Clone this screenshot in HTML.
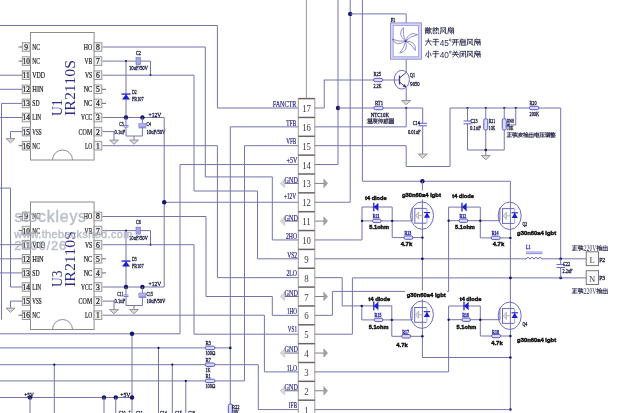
<!DOCTYPE html>
<html><head><meta charset="utf-8"><title>schematic</title>
<style>html,body{margin:0;padding:0;background:#fff;width:640px;height:413px;overflow:hidden}svg{display:block;filter:blur(0.25px)}</style>
</head><body><svg width="640" height="413" viewBox="0 0 640 413"><rect x="30.5" y="32.5" width="63.6" height="127.5" stroke="#8c8c8c" stroke-width="1" fill="none" rx="0"/><path d="M52.5,160.0 A10,10 0 0 1 72.5,160.0" stroke="#8c8c8c" fill="none" stroke-width="1"/><rect x="22.3" y="42.7" width="7.8" height="8.6" stroke="#9a9a9a" stroke-width="1" fill="#eef0ee" rx="0"/><text x="26.2" y="49.9" font-family="Liberation Serif" font-size="8.4" fill="#1a1a1a" font-weight="normal" text-anchor="middle" stroke="#1a1a1a" stroke-width="0.22" textLength="3.8" lengthAdjust="spacingAndGlyphs" >9</text><text x="32.3" y="49.9" font-family="Liberation Serif" font-size="8.4" fill="#1a1a1a" font-weight="normal" text-anchor="start" stroke="#1a1a1a" stroke-width="0.22" textLength="7.7" lengthAdjust="spacingAndGlyphs" >NC</text><rect x="94.1" y="42.7" width="7.7" height="8.6" stroke="#9a9a9a" stroke-width="1" fill="#eef0ee" rx="0"/><text x="97.95" y="49.9" font-family="Liberation Serif" font-size="8.4" fill="#1a1a1a" font-weight="normal" text-anchor="middle" stroke="#1a1a1a" stroke-width="0.22" textLength="3.8" lengthAdjust="spacingAndGlyphs" >8</text><text x="92.2" y="49.9" font-family="Liberation Serif" font-size="8.4" fill="#1a1a1a" font-weight="normal" text-anchor="end" stroke="#1a1a1a" stroke-width="0.22" textLength="8.4" lengthAdjust="spacingAndGlyphs" >HO</text><rect x="22.3" y="56.800000000000004" width="7.8" height="8.6" stroke="#9a9a9a" stroke-width="1" fill="#eef0ee" rx="0"/><text x="26.2" y="64.0" font-family="Liberation Serif" font-size="8.4" fill="#1a1a1a" font-weight="normal" text-anchor="middle" stroke="#1a1a1a" stroke-width="0.22" textLength="7.2" lengthAdjust="spacingAndGlyphs" >10</text><text x="32.3" y="64.0" font-family="Liberation Serif" font-size="8.4" fill="#1a1a1a" font-weight="normal" text-anchor="start" stroke="#1a1a1a" stroke-width="0.22" textLength="7.7" lengthAdjust="spacingAndGlyphs" >NC</text><rect x="94.1" y="56.800000000000004" width="7.7" height="8.6" stroke="#9a9a9a" stroke-width="1" fill="#eef0ee" rx="0"/><text x="97.95" y="64.0" font-family="Liberation Serif" font-size="8.4" fill="#1a1a1a" font-weight="normal" text-anchor="middle" stroke="#1a1a1a" stroke-width="0.22" textLength="3.8" lengthAdjust="spacingAndGlyphs" >7</text><text x="92.2" y="64.0" font-family="Liberation Serif" font-size="8.4" fill="#1a1a1a" font-weight="normal" text-anchor="end" stroke="#1a1a1a" stroke-width="0.22" textLength="7.6" lengthAdjust="spacingAndGlyphs" >VB</text><rect x="22.3" y="70.9" width="7.8" height="8.6" stroke="#9a9a9a" stroke-width="1" fill="#eef0ee" rx="0"/><text x="26.2" y="78.10000000000001" font-family="Liberation Serif" font-size="8.4" fill="#1a1a1a" font-weight="normal" text-anchor="middle" stroke="#1a1a1a" stroke-width="0.22" textLength="7.2" lengthAdjust="spacingAndGlyphs" >11</text><text x="32.3" y="78.10000000000001" font-family="Liberation Serif" font-size="8.4" fill="#1a1a1a" font-weight="normal" text-anchor="start" stroke="#1a1a1a" stroke-width="0.22" textLength="12.8" lengthAdjust="spacingAndGlyphs" >VDD</text><rect x="94.1" y="70.9" width="7.7" height="8.6" stroke="#9a9a9a" stroke-width="1" fill="#eef0ee" rx="0"/><text x="97.95" y="78.10000000000001" font-family="Liberation Serif" font-size="8.4" fill="#1a1a1a" font-weight="normal" text-anchor="middle" stroke="#1a1a1a" stroke-width="0.22" textLength="3.8" lengthAdjust="spacingAndGlyphs" >6</text><text x="92.2" y="78.10000000000001" font-family="Liberation Serif" font-size="8.4" fill="#1a1a1a" font-weight="normal" text-anchor="end" stroke="#1a1a1a" stroke-width="0.22" textLength="7.3" lengthAdjust="spacingAndGlyphs" >VS</text><rect x="22.3" y="85.0" width="7.8" height="8.6" stroke="#9a9a9a" stroke-width="1" fill="#eef0ee" rx="0"/><text x="26.2" y="92.2" font-family="Liberation Serif" font-size="8.4" fill="#1a1a1a" font-weight="normal" text-anchor="middle" stroke="#1a1a1a" stroke-width="0.22" textLength="7.2" lengthAdjust="spacingAndGlyphs" >12</text><text x="32.3" y="92.2" font-family="Liberation Serif" font-size="8.4" fill="#1a1a1a" font-weight="normal" text-anchor="start" stroke="#1a1a1a" stroke-width="0.22" textLength="11.4" lengthAdjust="spacingAndGlyphs" >HIN</text><rect x="94.1" y="85.0" width="7.7" height="8.6" stroke="#9a9a9a" stroke-width="1" fill="#eef0ee" rx="0"/><text x="97.95" y="92.2" font-family="Liberation Serif" font-size="8.4" fill="#1a1a1a" font-weight="normal" text-anchor="middle" stroke="#1a1a1a" stroke-width="0.22" textLength="3.8" lengthAdjust="spacingAndGlyphs" >5</text><text x="92.2" y="92.2" font-family="Liberation Serif" font-size="8.4" fill="#1a1a1a" font-weight="normal" text-anchor="end" stroke="#1a1a1a" stroke-width="0.22" textLength="8.5" lengthAdjust="spacingAndGlyphs" >NC</text><rect x="22.3" y="99.10000000000001" width="7.8" height="8.6" stroke="#9a9a9a" stroke-width="1" fill="#eef0ee" rx="0"/><text x="26.2" y="106.30000000000001" font-family="Liberation Serif" font-size="8.4" fill="#1a1a1a" font-weight="normal" text-anchor="middle" stroke="#1a1a1a" stroke-width="0.22" textLength="7.2" lengthAdjust="spacingAndGlyphs" >13</text><text x="32.3" y="106.30000000000001" font-family="Liberation Serif" font-size="8.4" fill="#1a1a1a" font-weight="normal" text-anchor="start" stroke="#1a1a1a" stroke-width="0.22" textLength="7.3" lengthAdjust="spacingAndGlyphs" >SD</text><rect x="94.1" y="99.10000000000001" width="7.7" height="8.6" stroke="#9a9a9a" stroke-width="1" fill="#eef0ee" rx="0"/><text x="97.95" y="106.30000000000001" font-family="Liberation Serif" font-size="8.4" fill="#1a1a1a" font-weight="normal" text-anchor="middle" stroke="#1a1a1a" stroke-width="0.22" textLength="3.8" lengthAdjust="spacingAndGlyphs" >4</text><text x="92.2" y="106.30000000000001" font-family="Liberation Serif" font-size="8.4" fill="#1a1a1a" font-weight="normal" text-anchor="end" stroke="#1a1a1a" stroke-width="0.22" textLength="8.5" lengthAdjust="spacingAndGlyphs" >NC</text><rect x="22.3" y="113.2" width="7.8" height="8.6" stroke="#9a9a9a" stroke-width="1" fill="#eef0ee" rx="0"/><text x="26.2" y="120.4" font-family="Liberation Serif" font-size="8.4" fill="#1a1a1a" font-weight="normal" text-anchor="middle" stroke="#1a1a1a" stroke-width="0.22" textLength="7.2" lengthAdjust="spacingAndGlyphs" >14</text><text x="32.3" y="120.4" font-family="Liberation Serif" font-size="8.4" fill="#1a1a1a" font-weight="normal" text-anchor="start" stroke="#1a1a1a" stroke-width="0.22" textLength="8.8" lengthAdjust="spacingAndGlyphs" >LIN</text><rect x="94.1" y="113.2" width="7.7" height="8.6" stroke="#9a9a9a" stroke-width="1" fill="#eef0ee" rx="0"/><text x="97.95" y="120.4" font-family="Liberation Serif" font-size="8.4" fill="#1a1a1a" font-weight="normal" text-anchor="middle" stroke="#1a1a1a" stroke-width="0.22" textLength="3.8" lengthAdjust="spacingAndGlyphs" >3</text><text x="92.2" y="120.4" font-family="Liberation Serif" font-size="8.4" fill="#1a1a1a" font-weight="normal" text-anchor="end" stroke="#1a1a1a" stroke-width="0.22" textLength="11.1" lengthAdjust="spacingAndGlyphs" >VCC</text><rect x="22.3" y="127.3" width="7.8" height="8.6" stroke="#9a9a9a" stroke-width="1" fill="#eef0ee" rx="0"/><text x="26.2" y="134.5" font-family="Liberation Serif" font-size="8.4" fill="#1a1a1a" font-weight="normal" text-anchor="middle" stroke="#1a1a1a" stroke-width="0.22" textLength="7.2" lengthAdjust="spacingAndGlyphs" >15</text><text x="32.3" y="134.5" font-family="Liberation Serif" font-size="8.4" fill="#1a1a1a" font-weight="normal" text-anchor="start" stroke="#1a1a1a" stroke-width="0.22" textLength="9.3" lengthAdjust="spacingAndGlyphs" >VSS</text><rect x="94.1" y="127.3" width="7.7" height="8.6" stroke="#9a9a9a" stroke-width="1" fill="#eef0ee" rx="0"/><text x="97.95" y="134.5" font-family="Liberation Serif" font-size="8.4" fill="#1a1a1a" font-weight="normal" text-anchor="middle" stroke="#1a1a1a" stroke-width="0.22" textLength="3.8" lengthAdjust="spacingAndGlyphs" >2</text><text x="92.2" y="134.5" font-family="Liberation Serif" font-size="8.4" fill="#1a1a1a" font-weight="normal" text-anchor="end" stroke="#1a1a1a" stroke-width="0.22" textLength="13.6" lengthAdjust="spacingAndGlyphs" >COM</text><rect x="22.3" y="141.39999999999998" width="7.8" height="8.6" stroke="#9a9a9a" stroke-width="1" fill="#eef0ee" rx="0"/><text x="26.2" y="148.6" font-family="Liberation Serif" font-size="8.4" fill="#1a1a1a" font-weight="normal" text-anchor="middle" stroke="#1a1a1a" stroke-width="0.22" textLength="7.2" lengthAdjust="spacingAndGlyphs" >16</text><text x="32.3" y="148.6" font-family="Liberation Serif" font-size="8.4" fill="#1a1a1a" font-weight="normal" text-anchor="start" stroke="#1a1a1a" stroke-width="0.22" textLength="7.7" lengthAdjust="spacingAndGlyphs" >NC</text><rect x="94.1" y="141.39999999999998" width="7.7" height="8.6" stroke="#9a9a9a" stroke-width="1" fill="#eef0ee" rx="0"/><text x="97.95" y="148.6" font-family="Liberation Serif" font-size="8.4" fill="#1a1a1a" font-weight="normal" text-anchor="middle" stroke="#1a1a1a" stroke-width="0.22" textLength="3.8" lengthAdjust="spacingAndGlyphs" >1</text><text x="92.2" y="148.6" font-family="Liberation Serif" font-size="8.4" fill="#1a1a1a" font-weight="normal" text-anchor="end" stroke="#1a1a1a" stroke-width="0.22" textLength="7.3" lengthAdjust="spacingAndGlyphs" >LO</text><path d="M18.5,47.0 L22.3,47.0" stroke="#6a6a6a" stroke-width="1" fill="none"/><path d="M18.5,61.1 L22.3,61.1" stroke="#6a6a6a" stroke-width="1" fill="none"/><path d="M18.5,145.7 L22.3,145.7" stroke="#6a6a6a" stroke-width="1" fill="none"/><path d="M101.8,89.3 L106,89.3" stroke="#6a6a6a" stroke-width="1" fill="none"/><path d="M101.8,103.4 L106,103.4" stroke="#6a6a6a" stroke-width="1" fill="none"/><text transform="translate(74.5,116) rotate(-90)" font-family="Liberation Serif" font-size="15" fill="#2b2b85" font-weight="normal" text-anchor="start" textLength="56" lengthAdjust="spacingAndGlyphs" >IR2110S</text><text transform="translate(61.5,116) rotate(-90)" font-family="Liberation Serif" font-size="15" fill="#2b2b85" font-weight="normal" text-anchor="start" textLength="16.5" lengthAdjust="spacingAndGlyphs" >U1</text><rect x="30.5" y="202.0" width="63.6" height="127.5" stroke="#8c8c8c" stroke-width="1" fill="none" rx="0"/><path d="M52.5,329.5 A10,10 0 0 1 72.5,329.5" stroke="#8c8c8c" fill="none" stroke-width="1"/><rect x="22.3" y="212.2" width="7.8" height="8.6" stroke="#9a9a9a" stroke-width="1" fill="#eef0ee" rx="0"/><text x="26.2" y="219.4" font-family="Liberation Serif" font-size="8.4" fill="#1a1a1a" font-weight="normal" text-anchor="middle" stroke="#1a1a1a" stroke-width="0.22" textLength="3.8" lengthAdjust="spacingAndGlyphs" >9</text><text x="32.3" y="219.4" font-family="Liberation Serif" font-size="8.4" fill="#1a1a1a" font-weight="normal" text-anchor="start" stroke="#1a1a1a" stroke-width="0.22" textLength="7.7" lengthAdjust="spacingAndGlyphs" >NC</text><rect x="94.1" y="212.2" width="7.7" height="8.6" stroke="#9a9a9a" stroke-width="1" fill="#eef0ee" rx="0"/><text x="97.95" y="219.4" font-family="Liberation Serif" font-size="8.4" fill="#1a1a1a" font-weight="normal" text-anchor="middle" stroke="#1a1a1a" stroke-width="0.22" textLength="3.8" lengthAdjust="spacingAndGlyphs" >8</text><text x="92.2" y="219.4" font-family="Liberation Serif" font-size="8.4" fill="#1a1a1a" font-weight="normal" text-anchor="end" stroke="#1a1a1a" stroke-width="0.22" textLength="8.4" lengthAdjust="spacingAndGlyphs" >HO</text><rect x="22.3" y="226.29999999999998" width="7.8" height="8.6" stroke="#9a9a9a" stroke-width="1" fill="#eef0ee" rx="0"/><text x="26.2" y="233.5" font-family="Liberation Serif" font-size="8.4" fill="#1a1a1a" font-weight="normal" text-anchor="middle" stroke="#1a1a1a" stroke-width="0.22" textLength="7.2" lengthAdjust="spacingAndGlyphs" >10</text><text x="32.3" y="233.5" font-family="Liberation Serif" font-size="8.4" fill="#1a1a1a" font-weight="normal" text-anchor="start" stroke="#1a1a1a" stroke-width="0.22" textLength="7.7" lengthAdjust="spacingAndGlyphs" >NC</text><rect x="94.1" y="226.29999999999998" width="7.7" height="8.6" stroke="#9a9a9a" stroke-width="1" fill="#eef0ee" rx="0"/><text x="97.95" y="233.5" font-family="Liberation Serif" font-size="8.4" fill="#1a1a1a" font-weight="normal" text-anchor="middle" stroke="#1a1a1a" stroke-width="0.22" textLength="3.8" lengthAdjust="spacingAndGlyphs" >7</text><text x="92.2" y="233.5" font-family="Liberation Serif" font-size="8.4" fill="#1a1a1a" font-weight="normal" text-anchor="end" stroke="#1a1a1a" stroke-width="0.22" textLength="7.6" lengthAdjust="spacingAndGlyphs" >VB</text><rect x="22.3" y="240.39999999999998" width="7.8" height="8.6" stroke="#9a9a9a" stroke-width="1" fill="#eef0ee" rx="0"/><text x="26.2" y="247.6" font-family="Liberation Serif" font-size="8.4" fill="#1a1a1a" font-weight="normal" text-anchor="middle" stroke="#1a1a1a" stroke-width="0.22" textLength="7.2" lengthAdjust="spacingAndGlyphs" >11</text><text x="32.3" y="247.6" font-family="Liberation Serif" font-size="8.4" fill="#1a1a1a" font-weight="normal" text-anchor="start" stroke="#1a1a1a" stroke-width="0.22" textLength="12.8" lengthAdjust="spacingAndGlyphs" >VDD</text><rect x="94.1" y="240.39999999999998" width="7.7" height="8.6" stroke="#9a9a9a" stroke-width="1" fill="#eef0ee" rx="0"/><text x="97.95" y="247.6" font-family="Liberation Serif" font-size="8.4" fill="#1a1a1a" font-weight="normal" text-anchor="middle" stroke="#1a1a1a" stroke-width="0.22" textLength="3.8" lengthAdjust="spacingAndGlyphs" >6</text><text x="92.2" y="247.6" font-family="Liberation Serif" font-size="8.4" fill="#1a1a1a" font-weight="normal" text-anchor="end" stroke="#1a1a1a" stroke-width="0.22" textLength="7.3" lengthAdjust="spacingAndGlyphs" >VS</text><rect x="22.3" y="254.5" width="7.8" height="8.6" stroke="#9a9a9a" stroke-width="1" fill="#eef0ee" rx="0"/><text x="26.2" y="261.7" font-family="Liberation Serif" font-size="8.4" fill="#1a1a1a" font-weight="normal" text-anchor="middle" stroke="#1a1a1a" stroke-width="0.22" textLength="7.2" lengthAdjust="spacingAndGlyphs" >12</text><text x="32.3" y="261.7" font-family="Liberation Serif" font-size="8.4" fill="#1a1a1a" font-weight="normal" text-anchor="start" stroke="#1a1a1a" stroke-width="0.22" textLength="11.4" lengthAdjust="spacingAndGlyphs" >HIN</text><rect x="94.1" y="254.5" width="7.7" height="8.6" stroke="#9a9a9a" stroke-width="1" fill="#eef0ee" rx="0"/><text x="97.95" y="261.7" font-family="Liberation Serif" font-size="8.4" fill="#1a1a1a" font-weight="normal" text-anchor="middle" stroke="#1a1a1a" stroke-width="0.22" textLength="3.8" lengthAdjust="spacingAndGlyphs" >5</text><text x="92.2" y="261.7" font-family="Liberation Serif" font-size="8.4" fill="#1a1a1a" font-weight="normal" text-anchor="end" stroke="#1a1a1a" stroke-width="0.22" textLength="8.5" lengthAdjust="spacingAndGlyphs" >NC</text><rect x="22.3" y="268.59999999999997" width="7.8" height="8.6" stroke="#9a9a9a" stroke-width="1" fill="#eef0ee" rx="0"/><text x="26.2" y="275.79999999999995" font-family="Liberation Serif" font-size="8.4" fill="#1a1a1a" font-weight="normal" text-anchor="middle" stroke="#1a1a1a" stroke-width="0.22" textLength="7.2" lengthAdjust="spacingAndGlyphs" >13</text><text x="32.3" y="275.79999999999995" font-family="Liberation Serif" font-size="8.4" fill="#1a1a1a" font-weight="normal" text-anchor="start" stroke="#1a1a1a" stroke-width="0.22" textLength="7.3" lengthAdjust="spacingAndGlyphs" >SD</text><rect x="94.1" y="268.59999999999997" width="7.7" height="8.6" stroke="#9a9a9a" stroke-width="1" fill="#eef0ee" rx="0"/><text x="97.95" y="275.79999999999995" font-family="Liberation Serif" font-size="8.4" fill="#1a1a1a" font-weight="normal" text-anchor="middle" stroke="#1a1a1a" stroke-width="0.22" textLength="3.8" lengthAdjust="spacingAndGlyphs" >4</text><text x="92.2" y="275.79999999999995" font-family="Liberation Serif" font-size="8.4" fill="#1a1a1a" font-weight="normal" text-anchor="end" stroke="#1a1a1a" stroke-width="0.22" textLength="8.5" lengthAdjust="spacingAndGlyphs" >NC</text><rect x="22.3" y="282.7" width="7.8" height="8.6" stroke="#9a9a9a" stroke-width="1" fill="#eef0ee" rx="0"/><text x="26.2" y="289.9" font-family="Liberation Serif" font-size="8.4" fill="#1a1a1a" font-weight="normal" text-anchor="middle" stroke="#1a1a1a" stroke-width="0.22" textLength="7.2" lengthAdjust="spacingAndGlyphs" >14</text><text x="32.3" y="289.9" font-family="Liberation Serif" font-size="8.4" fill="#1a1a1a" font-weight="normal" text-anchor="start" stroke="#1a1a1a" stroke-width="0.22" textLength="8.8" lengthAdjust="spacingAndGlyphs" >LIN</text><rect x="94.1" y="282.7" width="7.7" height="8.6" stroke="#9a9a9a" stroke-width="1" fill="#eef0ee" rx="0"/><text x="97.95" y="289.9" font-family="Liberation Serif" font-size="8.4" fill="#1a1a1a" font-weight="normal" text-anchor="middle" stroke="#1a1a1a" stroke-width="0.22" textLength="3.8" lengthAdjust="spacingAndGlyphs" >3</text><text x="92.2" y="289.9" font-family="Liberation Serif" font-size="8.4" fill="#1a1a1a" font-weight="normal" text-anchor="end" stroke="#1a1a1a" stroke-width="0.22" textLength="11.1" lengthAdjust="spacingAndGlyphs" >VCC</text><rect x="22.3" y="296.8" width="7.8" height="8.6" stroke="#9a9a9a" stroke-width="1" fill="#eef0ee" rx="0"/><text x="26.2" y="304.0" font-family="Liberation Serif" font-size="8.4" fill="#1a1a1a" font-weight="normal" text-anchor="middle" stroke="#1a1a1a" stroke-width="0.22" textLength="7.2" lengthAdjust="spacingAndGlyphs" >15</text><text x="32.3" y="304.0" font-family="Liberation Serif" font-size="8.4" fill="#1a1a1a" font-weight="normal" text-anchor="start" stroke="#1a1a1a" stroke-width="0.22" textLength="9.3" lengthAdjust="spacingAndGlyphs" >VSS</text><rect x="94.1" y="296.8" width="7.7" height="8.6" stroke="#9a9a9a" stroke-width="1" fill="#eef0ee" rx="0"/><text x="97.95" y="304.0" font-family="Liberation Serif" font-size="8.4" fill="#1a1a1a" font-weight="normal" text-anchor="middle" stroke="#1a1a1a" stroke-width="0.22" textLength="3.8" lengthAdjust="spacingAndGlyphs" >2</text><text x="92.2" y="304.0" font-family="Liberation Serif" font-size="8.4" fill="#1a1a1a" font-weight="normal" text-anchor="end" stroke="#1a1a1a" stroke-width="0.22" textLength="13.6" lengthAdjust="spacingAndGlyphs" >COM</text><rect x="22.3" y="310.9" width="7.8" height="8.6" stroke="#9a9a9a" stroke-width="1" fill="#eef0ee" rx="0"/><text x="26.2" y="318.09999999999997" font-family="Liberation Serif" font-size="8.4" fill="#1a1a1a" font-weight="normal" text-anchor="middle" stroke="#1a1a1a" stroke-width="0.22" textLength="7.2" lengthAdjust="spacingAndGlyphs" >16</text><text x="32.3" y="318.09999999999997" font-family="Liberation Serif" font-size="8.4" fill="#1a1a1a" font-weight="normal" text-anchor="start" stroke="#1a1a1a" stroke-width="0.22" textLength="7.7" lengthAdjust="spacingAndGlyphs" >NC</text><rect x="94.1" y="310.9" width="7.7" height="8.6" stroke="#9a9a9a" stroke-width="1" fill="#eef0ee" rx="0"/><text x="97.95" y="318.09999999999997" font-family="Liberation Serif" font-size="8.4" fill="#1a1a1a" font-weight="normal" text-anchor="middle" stroke="#1a1a1a" stroke-width="0.22" textLength="3.8" lengthAdjust="spacingAndGlyphs" >1</text><text x="92.2" y="318.09999999999997" font-family="Liberation Serif" font-size="8.4" fill="#1a1a1a" font-weight="normal" text-anchor="end" stroke="#1a1a1a" stroke-width="0.22" textLength="7.3" lengthAdjust="spacingAndGlyphs" >LO</text><path d="M18.5,216.5 L22.3,216.5" stroke="#6a6a6a" stroke-width="1" fill="none"/><path d="M18.5,230.6 L22.3,230.6" stroke="#6a6a6a" stroke-width="1" fill="none"/><path d="M18.5,315.2 L22.3,315.2" stroke="#6a6a6a" stroke-width="1" fill="none"/><path d="M101.8,258.8 L106,258.8" stroke="#6a6a6a" stroke-width="1" fill="none"/><path d="M101.8,272.9 L106,272.9" stroke="#6a6a6a" stroke-width="1" fill="none"/><text transform="translate(74.5,287.0) rotate(-90)" font-family="Liberation Serif" font-size="15" fill="#2b2b85" font-weight="normal" text-anchor="start" textLength="56" lengthAdjust="spacingAndGlyphs" >IR2110S</text><text transform="translate(61.5,287.0) rotate(-90)" font-family="Liberation Serif" font-size="15" fill="#2b2b85" font-weight="normal" text-anchor="start" textLength="16.5" lengthAdjust="spacingAndGlyphs" >U3</text><path d="M102.5,61.1 L150.5,61.1 L150.5,75.2" stroke="#7474ac" stroke-width="1" fill="none"/><circle cx="126" cy="61.1" r="1.1" fill="#15156a"/><circle cx="150.5" cy="75.2" r="1.1" fill="#15156a"/><rect x="136" y="57.6" width="4.5" height="7" fill="#a8a8e0" stroke="#6a6ad0" stroke-width="0.6"/><text x="138.5" y="54.6" font-family="Liberation Serif" font-size="6.3" fill="#1e1e40" font-weight="normal" text-anchor="middle" stroke="#1e1e40" stroke-width="0.34" textLength="5" lengthAdjust="spacingAndGlyphs" >C2</text><text x="138.5" y="70.1" font-family="Liberation Serif" font-size="6.3" fill="#1e1e40" font-weight="normal" text-anchor="middle" stroke="#1e1e40" stroke-width="0.34" textLength="19" lengthAdjust="spacingAndGlyphs" >10uF/50V</text><path d="M126,61.1 L126,117.5" stroke="#7474ac" stroke-width="1" fill="none"/><path d="M122,99.6 L130,99.6 L126,94.3 Z" fill="#1c1cd0"/><path d="M121.5,94.1 L130.5,94.1" stroke="#1c1cd0" stroke-width="1.3" fill="none"/><text x="132" y="93.8" font-family="Liberation Serif" font-size="6.3" fill="#1e1e40" font-weight="normal" text-anchor="start" stroke="#1e1e40" stroke-width="0.34" textLength="4.6" lengthAdjust="spacingAndGlyphs" >D2</text><text x="132" y="100.8" font-family="Liberation Serif" font-size="6.3" fill="#1e1e40" font-weight="normal" text-anchor="start" stroke="#1e1e40" stroke-width="0.34" textLength="11.5" lengthAdjust="spacingAndGlyphs" >FR107</text><path d="M102.5,117.5 L164.2,117.5" stroke="#7474ac" stroke-width="1" fill="none"/><circle cx="126" cy="117.5" r="2.2" fill="#15156a"/><circle cx="142.4" cy="117.5" r="2.2" fill="#15156a"/><text x="148.6" y="116.5" font-family="Liberation Serif" font-size="7" fill="#1e1e40" font-weight="normal" text-anchor="start" stroke="#1e1e40" stroke-width="0.34" textLength="12.6" lengthAdjust="spacingAndGlyphs" >+12V</text><path d="M126,117.5 L126,125.5" stroke="#7474ac" stroke-width="1" fill="none"/><path d="M123.5,125.5 L128.5,125.5" stroke="#7a7ad8" stroke-width="1" fill="none"/><path d="M123.5,127.0 L128.5,127.0" stroke="#7a7ad8" stroke-width="1" fill="none"/><path d="M126,127.0 L126,136.0 L142.4,136.0" stroke="#7474ac" stroke-width="1" fill="none"/><path d="M142.4,117.5 L142.4,123.5" stroke="#7474ac" stroke-width="1" fill="none"/><rect x="138.8" y="123.5" width="7.2" height="3.5" fill="#b4b4ec" stroke="#8080d8" stroke-width="0.6"/><path d="M138.6,127.8 L146.2,127.8" stroke="#6a6ad0" stroke-width="1" fill="none"/><path d="M142.4,127.8 L142.4,136.0" stroke="#7474ac" stroke-width="1" fill="none"/><path d="M134,136.0 L134,140.0" stroke="#7474ac" stroke-width="1" fill="none"/><path d="M129.5,140.0 L138.5,140.0 L134,144.2 Z" fill="#dcdcdc" stroke="#8a8a8a" stroke-width="0.9"/><text x="119.2" y="126.2" font-family="Liberation Serif" font-size="6.3" fill="#1e1e40" font-weight="normal" text-anchor="start" stroke="#1e1e40" stroke-width="0.34" textLength="4.4" lengthAdjust="spacingAndGlyphs" >C3</text><text x="114.5" y="133.5" font-family="Liberation Serif" font-size="6.3" fill="#1e1e40" font-weight="normal" text-anchor="start" stroke="#1e1e40" stroke-width="0.34" textLength="10.5" lengthAdjust="spacingAndGlyphs" >0.1uF</text><text x="146.5" y="126.0" font-family="Liberation Serif" font-size="6.3" fill="#1e1e40" font-weight="normal" text-anchor="start" stroke="#1e1e40" stroke-width="0.34" textLength="4.5" lengthAdjust="spacingAndGlyphs" >C4</text><text x="146.5" y="133.5" font-family="Liberation Serif" font-size="6.3" fill="#1e1e40" font-weight="normal" text-anchor="start" stroke="#1e1e40" stroke-width="0.34" textLength="19" lengthAdjust="spacingAndGlyphs" >10uF/50V</text><path d="M102.5,131.6 L114,131.6 L114,140.1" stroke="#7474ac" stroke-width="1" fill="none"/><path d="M109.5,140.1 L118.5,140.1 L114,144.29999999999998 Z" fill="#dcdcdc" stroke="#8a8a8a" stroke-width="0.9"/><path d="M22,131.6 L10.5,131.6 L10.5,138.6" stroke="#7474ac" stroke-width="1" fill="none"/><path d="M6.0,138.6 L15.0,138.6 L10.5,142.79999999999998 Z" fill="#dcdcdc" stroke="#8a8a8a" stroke-width="0.9"/><path d="M102.5,230.6 L150.5,230.6 L150.5,244.7" stroke="#7474ac" stroke-width="1" fill="none"/><circle cx="126" cy="230.6" r="1.1" fill="#15156a"/><circle cx="150.5" cy="244.7" r="1.1" fill="#15156a"/><rect x="136" y="227.1" width="4.5" height="7" fill="#a8a8e0" stroke="#6a6ad0" stroke-width="0.6"/><text x="138.5" y="224.1" font-family="Liberation Serif" font-size="6.3" fill="#1e1e40" font-weight="normal" text-anchor="middle" stroke="#1e1e40" stroke-width="0.34" textLength="5" lengthAdjust="spacingAndGlyphs" >C6</text><text x="138.5" y="239.6" font-family="Liberation Serif" font-size="6.3" fill="#1e1e40" font-weight="normal" text-anchor="middle" stroke="#1e1e40" stroke-width="0.34" textLength="19" lengthAdjust="spacingAndGlyphs" >10uF/50V</text><path d="M126,230.6 L126,287.0" stroke="#7474ac" stroke-width="1" fill="none"/><path d="M122,266.6 L130,266.6 L126,261.3 Z" fill="#1c1cd0"/><path d="M121.5,261.1 L130.5,261.1" stroke="#1c1cd0" stroke-width="1.3" fill="none"/><text x="132" y="260.8" font-family="Liberation Serif" font-size="6.3" fill="#1e1e40" font-weight="normal" text-anchor="start" stroke="#1e1e40" stroke-width="0.34" textLength="4.6" lengthAdjust="spacingAndGlyphs" >D3</text><text x="132" y="267.8" font-family="Liberation Serif" font-size="6.3" fill="#1e1e40" font-weight="normal" text-anchor="start" stroke="#1e1e40" stroke-width="0.34" textLength="11.5" lengthAdjust="spacingAndGlyphs" >FR107</text><path d="M102.5,287.0 L164.2,287.0" stroke="#7474ac" stroke-width="1" fill="none"/><circle cx="126" cy="287.0" r="2.2" fill="#15156a"/><circle cx="142.4" cy="287.0" r="2.2" fill="#15156a"/><text x="148.6" y="286.0" font-family="Liberation Serif" font-size="7" fill="#1e1e40" font-weight="normal" text-anchor="start" stroke="#1e1e40" stroke-width="0.34" textLength="12.6" lengthAdjust="spacingAndGlyphs" >+12V</text><path d="M126,287.0 L126,295.0" stroke="#7474ac" stroke-width="1" fill="none"/><path d="M123.5,295.0 L128.5,295.0" stroke="#7a7ad8" stroke-width="1" fill="none"/><path d="M123.5,296.5 L128.5,296.5" stroke="#7a7ad8" stroke-width="1" fill="none"/><path d="M126,296.5 L126,305.5 L142.4,305.5" stroke="#7474ac" stroke-width="1" fill="none"/><path d="M142.4,287.0 L142.4,293.0" stroke="#7474ac" stroke-width="1" fill="none"/><rect x="138.8" y="293.0" width="7.2" height="3.5" fill="#b4b4ec" stroke="#8080d8" stroke-width="0.6"/><path d="M138.6,297.3 L146.2,297.3" stroke="#6a6ad0" stroke-width="1" fill="none"/><path d="M142.4,297.3 L142.4,305.5" stroke="#7474ac" stroke-width="1" fill="none"/><path d="M134,305.5 L134,309.5" stroke="#7474ac" stroke-width="1" fill="none"/><path d="M129.5,309.5 L138.5,309.5 L134,313.7 Z" fill="#dcdcdc" stroke="#8a8a8a" stroke-width="0.9"/><text x="117.3" y="295.7" font-family="Liberation Serif" font-size="6.3" fill="#1e1e40" font-weight="normal" text-anchor="start" stroke="#1e1e40" stroke-width="0.34" textLength="6" lengthAdjust="spacingAndGlyphs" >C11</text><text x="114.5" y="303.0" font-family="Liberation Serif" font-size="6.3" fill="#1e1e40" font-weight="normal" text-anchor="start" stroke="#1e1e40" stroke-width="0.34" textLength="10.5" lengthAdjust="spacingAndGlyphs" >0.1uF</text><text x="146.5" y="295.5" font-family="Liberation Serif" font-size="6.3" fill="#1e1e40" font-weight="normal" text-anchor="start" stroke="#1e1e40" stroke-width="0.34" textLength="6.5" lengthAdjust="spacingAndGlyphs" >C15</text><text x="146.5" y="303.0" font-family="Liberation Serif" font-size="6.3" fill="#1e1e40" font-weight="normal" text-anchor="start" stroke="#1e1e40" stroke-width="0.34" textLength="19" lengthAdjust="spacingAndGlyphs" >10uF/50V</text><path d="M102.5,301.1 L114,301.1 L114,309.6" stroke="#7474ac" stroke-width="1" fill="none"/><path d="M109.5,309.6 L118.5,309.6 L114,313.8 Z" fill="#dcdcdc" stroke="#8a8a8a" stroke-width="0.9"/><path d="M22,301.1 L10.5,301.1 L10.5,308.1" stroke="#7474ac" stroke-width="1" fill="none"/><path d="M6.0,308.1 L15.0,308.1 L10.5,312.3 Z" fill="#dcdcdc" stroke="#8a8a8a" stroke-width="0.9"/><path d="M298.3,98.6 L298.3,413" stroke="#9a9a9a" stroke-width="1" fill="none"/><path d="M314.8,98.6 L314.8,413" stroke="#9a9a9a" stroke-width="1" fill="none"/><path d="M298.3,98.6 L314.8,98.6" stroke="#6e6262" stroke-width="1.5" fill="none"/><text x="306.55" y="112.0" font-family="Liberation Serif" font-size="10.5" fill="#3a3a3a" font-weight="normal" text-anchor="middle" textLength="8.7" lengthAdjust="spacingAndGlyphs" stroke="none">17</text><path d="M298.3,117.44999999999999 L314.8,117.44999999999999" stroke="#6e6262" stroke-width="1.5" fill="none"/><text x="306.55" y="130.85" font-family="Liberation Serif" font-size="10.5" fill="#3a3a3a" font-weight="normal" text-anchor="middle" textLength="8.7" lengthAdjust="spacingAndGlyphs" stroke="none">16</text><path d="M298.3,136.3 L314.8,136.3" stroke="#6e6262" stroke-width="1.5" fill="none"/><text x="306.55" y="149.70000000000002" font-family="Liberation Serif" font-size="10.5" fill="#3a3a3a" font-weight="normal" text-anchor="middle" textLength="8.7" lengthAdjust="spacingAndGlyphs" stroke="none">15</text><path d="M298.3,155.15 L314.8,155.15" stroke="#6e6262" stroke-width="1.5" fill="none"/><text x="306.55" y="168.55" font-family="Liberation Serif" font-size="10.5" fill="#3a3a3a" font-weight="normal" text-anchor="middle" textLength="8.7" lengthAdjust="spacingAndGlyphs" stroke="none">14</text><path d="M298.3,174.0 L314.8,174.0" stroke="#6e6262" stroke-width="1.5" fill="none"/><text x="306.55" y="187.4" font-family="Liberation Serif" font-size="10.5" fill="#3a3a3a" font-weight="normal" text-anchor="middle" textLength="8.7" lengthAdjust="spacingAndGlyphs" stroke="none">13</text><path d="M298.3,192.85 L314.8,192.85" stroke="#6e6262" stroke-width="1.5" fill="none"/><text x="306.55" y="206.25" font-family="Liberation Serif" font-size="10.5" fill="#3a3a3a" font-weight="normal" text-anchor="middle" textLength="8.7" lengthAdjust="spacingAndGlyphs" stroke="none">12</text><path d="M298.3,211.7 L314.8,211.7" stroke="#6e6262" stroke-width="1.5" fill="none"/><text x="306.55" y="225.1" font-family="Liberation Serif" font-size="10.5" fill="#3a3a3a" font-weight="normal" text-anchor="middle" textLength="8.7" lengthAdjust="spacingAndGlyphs" stroke="none">11</text><path d="M298.3,230.55 L314.8,230.55" stroke="#6e6262" stroke-width="1.5" fill="none"/><text x="306.55" y="243.95000000000002" font-family="Liberation Serif" font-size="10.5" fill="#3a3a3a" font-weight="normal" text-anchor="middle" textLength="8.7" lengthAdjust="spacingAndGlyphs" stroke="none">10</text><path d="M298.3,249.4 L314.8,249.4" stroke="#6e6262" stroke-width="1.5" fill="none"/><text x="306.55" y="262.8" font-family="Liberation Serif" font-size="10.5" fill="#3a3a3a" font-weight="normal" text-anchor="middle" textLength="4.4" lengthAdjust="spacingAndGlyphs" stroke="none">9</text><path d="M298.3,268.25 L314.8,268.25" stroke="#6e6262" stroke-width="1.5" fill="none"/><text x="306.55" y="281.65" font-family="Liberation Serif" font-size="10.5" fill="#3a3a3a" font-weight="normal" text-anchor="middle" textLength="4.4" lengthAdjust="spacingAndGlyphs" stroke="none">8</text><path d="M298.3,287.1 L314.8,287.1" stroke="#6e6262" stroke-width="1.5" fill="none"/><text x="306.55" y="300.5" font-family="Liberation Serif" font-size="10.5" fill="#3a3a3a" font-weight="normal" text-anchor="middle" textLength="4.4" lengthAdjust="spacingAndGlyphs" stroke="none">7</text><path d="M298.3,305.95000000000005 L314.8,305.95000000000005" stroke="#6e6262" stroke-width="1.5" fill="none"/><text x="306.55" y="319.35" font-family="Liberation Serif" font-size="10.5" fill="#3a3a3a" font-weight="normal" text-anchor="middle" textLength="4.4" lengthAdjust="spacingAndGlyphs" stroke="none">6</text><path d="M298.3,324.8 L314.8,324.8" stroke="#6e6262" stroke-width="1.5" fill="none"/><text x="306.55" y="338.2" font-family="Liberation Serif" font-size="10.5" fill="#3a3a3a" font-weight="normal" text-anchor="middle" textLength="4.4" lengthAdjust="spacingAndGlyphs" stroke="none">5</text><path d="M298.3,343.65 L314.8,343.65" stroke="#6e6262" stroke-width="1.5" fill="none"/><text x="306.55" y="357.04999999999995" font-family="Liberation Serif" font-size="10.5" fill="#3a3a3a" font-weight="normal" text-anchor="middle" textLength="4.4" lengthAdjust="spacingAndGlyphs" stroke="none">4</text><path d="M298.3,362.5 L314.8,362.5" stroke="#6e6262" stroke-width="1.5" fill="none"/><text x="306.55" y="375.9" font-family="Liberation Serif" font-size="10.5" fill="#3a3a3a" font-weight="normal" text-anchor="middle" textLength="4.4" lengthAdjust="spacingAndGlyphs" stroke="none">3</text><path d="M298.3,381.35 L314.8,381.35" stroke="#6e6262" stroke-width="1.5" fill="none"/><text x="306.55" y="394.75" font-family="Liberation Serif" font-size="10.5" fill="#3a3a3a" font-weight="normal" text-anchor="middle" textLength="4.4" lengthAdjust="spacingAndGlyphs" stroke="none">2</text><path d="M298.3,400.20000000000005 L314.8,400.20000000000005" stroke="#6e6262" stroke-width="1.5" fill="none"/><text x="306.55" y="413.6" font-family="Liberation Serif" font-size="10.5" fill="#3a3a3a" font-weight="normal" text-anchor="middle" textLength="4.4" lengthAdjust="spacingAndGlyphs" stroke="none">1</text><path d="M306.4,0 L306.4,98.6" stroke="#999999" stroke-width="1" fill="none"/><text x="296.4" y="106.5" font-family="Liberation Serif" font-size="7.6" fill="#2b2b85" font-weight="normal" text-anchor="end" stroke="#2b2b85" stroke-width="0.22" textLength="23.7" lengthAdjust="spacingAndGlyphs" >FANCTR</text><text x="296.2" y="125.85" font-family="Liberation Serif" font-size="7.6" fill="#2b2b85" font-weight="normal" text-anchor="end" stroke="#2b2b85" stroke-width="0.22" textLength="10" lengthAdjust="spacingAndGlyphs" >TFB</text><text x="296.2" y="144.20000000000002" font-family="Liberation Serif" font-size="7.6" fill="#2b2b85" font-weight="normal" text-anchor="end" stroke="#2b2b85" stroke-width="0.22" textLength="10" lengthAdjust="spacingAndGlyphs" >VFB</text><text x="297.2" y="162.95000000000002" font-family="Liberation Serif" font-size="7.6" fill="#2b2b85" font-weight="normal" text-anchor="end" stroke="#2b2b85" stroke-width="0.22" textLength="10.6" lengthAdjust="spacingAndGlyphs" >+5V</text><path d="M284.5,183.4 L298.3,183.4" stroke="#6a6a90" stroke-width="1" fill="none"/><path d="M280.1,183.4 L284.70000000000005,179.1 L284.70000000000005,187.70000000000002 Z" fill="#d8d8d8" stroke="#bdbdbd" stroke-width="0.6"/><path d="M314.8,183.4 L324,183.4" stroke="#808080" stroke-width="1" fill="none"/><path d="M327.6,183.4 L323.8,179.1 L323.8,187.70000000000002 Z" fill="#a0a0a0" stroke="#989898" stroke-width="0.6"/><text x="297.8" y="182.8" font-family="Liberation Serif" font-size="7.6" fill="#2b2b85" font-weight="normal" text-anchor="end" stroke="#2b2b85" stroke-width="0.22" textLength="13.2" lengthAdjust="spacingAndGlyphs" >GND</text><text x="296.1" y="198.85" font-family="Liberation Serif" font-size="7.6" fill="#2b2b85" font-weight="normal" text-anchor="end" stroke="#2b2b85" stroke-width="0.22" textLength="12.2" lengthAdjust="spacingAndGlyphs" >+12V</text><path d="M284.5,221.1 L298.3,221.1" stroke="#6a6a90" stroke-width="1" fill="none"/><path d="M280.1,221.1 L284.70000000000005,216.79999999999998 L284.70000000000005,225.4 Z" fill="#d8d8d8" stroke="#bdbdbd" stroke-width="0.6"/><path d="M314.8,221.1 L324,221.1" stroke="#808080" stroke-width="1" fill="none"/><path d="M327.6,221.1 L323.8,216.79999999999998 L323.8,225.4 Z" fill="#a0a0a0" stroke="#989898" stroke-width="0.6"/><text x="297.8" y="220.5" font-family="Liberation Serif" font-size="7.6" fill="#2b2b85" font-weight="normal" text-anchor="end" stroke="#2b2b85" stroke-width="0.22" textLength="13.2" lengthAdjust="spacingAndGlyphs" >GND</text><text x="297.0" y="238.65" font-family="Liberation Serif" font-size="7.6" fill="#2b2b85" font-weight="normal" text-anchor="end" stroke="#2b2b85" stroke-width="0.22" textLength="11" lengthAdjust="spacingAndGlyphs" >2HO</text><text x="297.0" y="257.5" font-family="Liberation Serif" font-size="7.6" fill="#2b2b85" font-weight="normal" text-anchor="end" stroke="#2b2b85" stroke-width="0.22" textLength="9.8" lengthAdjust="spacingAndGlyphs" >VS2</text><text x="297.0" y="275.75" font-family="Liberation Serif" font-size="7.6" fill="#2b2b85" font-weight="normal" text-anchor="end" stroke="#2b2b85" stroke-width="0.22" textLength="10.5" lengthAdjust="spacingAndGlyphs" >2LO</text><path d="M284.5,296.5 L298.3,296.5" stroke="#6a6a90" stroke-width="1" fill="none"/><path d="M280.1,296.5 L284.70000000000005,292.2 L284.70000000000005,300.8 Z" fill="#d8d8d8" stroke="#bdbdbd" stroke-width="0.6"/><path d="M314.8,296.5 L324,296.5" stroke="#808080" stroke-width="1" fill="none"/><path d="M327.6,296.5 L323.8,292.2 L323.8,300.8 Z" fill="#a0a0a0" stroke="#989898" stroke-width="0.6"/><text x="297.8" y="295.9" font-family="Liberation Serif" font-size="7.6" fill="#2b2b85" font-weight="normal" text-anchor="end" stroke="#2b2b85" stroke-width="0.22" textLength="13.2" lengthAdjust="spacingAndGlyphs" >GND</text><text x="297.0" y="313.95000000000005" font-family="Liberation Serif" font-size="7.6" fill="#2b2b85" font-weight="normal" text-anchor="end" stroke="#2b2b85" stroke-width="0.22" textLength="10.1" lengthAdjust="spacingAndGlyphs" >1HO</text><text x="297.0" y="332.3" font-family="Liberation Serif" font-size="7.6" fill="#2b2b85" font-weight="normal" text-anchor="end" stroke="#2b2b85" stroke-width="0.22" textLength="9.2" lengthAdjust="spacingAndGlyphs" >VS1</text><path d="M284.5,353.04999999999995 L298.3,353.04999999999995" stroke="#6a6a90" stroke-width="1" fill="none"/><path d="M280.1,353.04999999999995 L284.70000000000005,348.74999999999994 L284.70000000000005,357.34999999999997 Z" fill="#d8d8d8" stroke="#bdbdbd" stroke-width="0.6"/><path d="M314.8,353.04999999999995 L324,353.04999999999995" stroke="#808080" stroke-width="1" fill="none"/><path d="M327.6,353.04999999999995 L323.8,348.74999999999994 L323.8,357.34999999999997 Z" fill="#a0a0a0" stroke="#989898" stroke-width="0.6"/><text x="297.8" y="352.44999999999993" font-family="Liberation Serif" font-size="7.6" fill="#2b2b85" font-weight="normal" text-anchor="end" stroke="#2b2b85" stroke-width="0.22" textLength="13.2" lengthAdjust="spacingAndGlyphs" >GND</text><text x="297.0" y="371.4" font-family="Liberation Serif" font-size="7.6" fill="#2b2b85" font-weight="normal" text-anchor="end" stroke="#2b2b85" stroke-width="0.22" textLength="10.2" lengthAdjust="spacingAndGlyphs" >1LO</text><path d="M284.5,390.75 L298.3,390.75" stroke="#6a6a90" stroke-width="1" fill="none"/><path d="M280.1,390.75 L284.70000000000005,386.45 L284.70000000000005,395.05 Z" fill="#d8d8d8" stroke="#bdbdbd" stroke-width="0.6"/><path d="M314.8,390.75 L324,390.75" stroke="#808080" stroke-width="1" fill="none"/><path d="M327.6,390.75 L323.8,386.45 L323.8,395.05 Z" fill="#a0a0a0" stroke="#989898" stroke-width="0.6"/><text x="297.8" y="390.15" font-family="Liberation Serif" font-size="7.6" fill="#2b2b85" font-weight="normal" text-anchor="end" stroke="#2b2b85" stroke-width="0.22" textLength="13.2" lengthAdjust="spacingAndGlyphs" >GND</text><text x="297.0" y="407.6" font-family="Liberation Serif" font-size="7.6" fill="#2b2b85" font-weight="normal" text-anchor="end" stroke="#2b2b85" stroke-width="0.22" textLength="8.3" lengthAdjust="spacingAndGlyphs" >IFB</text><path d="M0,25.5 L217.4,25.5 L217.4,108.0 L298.3,108.0" stroke="#7474ac" stroke-width="1" fill="none"/><path d="M102.5,47.0 L205.3,47.0 L205.3,176.9 L272.3,176.9 L272.3,239.95000000000002 L298.3,239.95000000000002" stroke="#7474ac" stroke-width="1" fill="none"/><path d="M150.5,75.2 L194,75.2 L194,191 L257.5,191 L257.5,258.8 L298.3,258.8" stroke="#7474ac" stroke-width="1" fill="none"/><path d="M102.5,75.2 L150.5,75.2" stroke="#7474ac" stroke-width="1" fill="none"/><path d="M102.5,145.7 L217.4,145.7 L217.4,277.65 L298.3,277.65" stroke="#7474ac" stroke-width="1" fill="none"/><path d="M298.3,126.85 L230.3,126.85 L230.3,404" stroke="#7474ac" stroke-width="1" fill="none"/><path d="M298.3,145.70000000000002 L244.5,145.70000000000002 L244.5,380.9" stroke="#7474ac" stroke-width="1" fill="none"/><path d="M298.3,164.55 L180,164.55 L180,333.8 L0,333.8" stroke="#7474ac" stroke-width="1" fill="none"/><path d="M164.2,117.5 L164.2,287.0" stroke="#7474ac" stroke-width="1" fill="none"/><path d="M164.2,202.25 L298.3,202.25" stroke="#7474ac" stroke-width="1" fill="none"/><circle cx="164.2" cy="202.25" r="2.2" fill="#15156a"/><path d="M102.5,216.5 L206,216.5 L206,296.5 L272.3,296.5 L272.3,315.35 L298.3,315.35" stroke="#7474ac" stroke-width="1" fill="none"/><path d="M150.5,244.7 L194,244.7 L194,334.2 L298.3,334.2" stroke="#7474ac" stroke-width="1" fill="none"/><path d="M102.5,244.7 L150.5,244.7" stroke="#7474ac" stroke-width="1" fill="none"/><path d="M102.5,315.2 L264.4,315.2 L264.4,371.9 L298.3,371.9" stroke="#7474ac" stroke-width="1" fill="none"/><path d="M0,364.7 L258.3,364.7 L258.3,409.6 L298.3,409.6" stroke="#7474ac" stroke-width="1" fill="none"/><path d="M0,347.9 L230.3,347.9" stroke="#7474ac" stroke-width="1" fill="none"/><circle cx="230.3" cy="347.9" r="1.3" fill="#15156a"/><path d="M0,380.9 L244.5,380.9" stroke="#7474ac" stroke-width="1" fill="none"/><path d="M0,397.5 L132,397.5" stroke="#7474ac" stroke-width="1" fill="none"/><path d="M132,333.8 L132,413" stroke="#7474ac" stroke-width="1" fill="none"/><circle cx="132" cy="333.8" r="2.2" fill="#15156a"/><circle cx="30" cy="397.5" r="2.2" fill="#15156a"/><circle cx="104" cy="397.5" r="2.2" fill="#15156a"/><circle cx="115.75" cy="397.5" r="2.2" fill="#15156a"/><circle cx="132" cy="397.5" r="2.2" fill="#15156a"/><path d="M30,397.5 L30,413" stroke="#7474ac" stroke-width="1" fill="none"/><path d="M104,397.5 L104,413" stroke="#7474ac" stroke-width="1" fill="none"/><path d="M115.75,397.5 L115.75,413" stroke="#7474ac" stroke-width="1" fill="none"/><path d="M54.3,364.7 L54.3,413" stroke="#7474ac" stroke-width="1" fill="none"/><circle cx="54.3" cy="364.7" r="1.1" fill="#15156a"/><path d="M158.5,347.9 L158.5,413" stroke="#7474ac" stroke-width="1" fill="none"/><circle cx="158.5" cy="347.9" r="1.1" fill="#15156a"/><path d="M172.3,364.7 L172.3,413" stroke="#7474ac" stroke-width="1" fill="none"/><circle cx="172.3" cy="364.7" r="1.1" fill="#15156a"/><path d="M185.8,380.9 L185.8,413" stroke="#7474ac" stroke-width="1" fill="none"/><circle cx="185.8" cy="380.9" r="1.1" fill="#15156a"/><text x="24.3" y="396.5" font-family="Liberation Serif" font-size="7" fill="#1e1e40" font-weight="normal" text-anchor="start" stroke="#1e1e40" stroke-width="0.34" textLength="9.4" lengthAdjust="spacingAndGlyphs" >+5V</text><text x="120.3" y="396.5" font-family="Liberation Serif" font-size="7" fill="#1e1e40" font-weight="normal" text-anchor="start" stroke="#1e1e40" stroke-width="0.34" textLength="10.2" lengthAdjust="spacingAndGlyphs" >+5V</text><rect x="205.4" y="346.2" width="9.400000000000006" height="3.4" rx="1.4" fill="#dcdcf4" stroke="#4a4ac0" stroke-width="0.9"/><text x="205.4" y="345.29999999999995" font-family="Liberation Serif" font-size="6.8" fill="#1e1e40" font-weight="normal" text-anchor="start" stroke="#1e1e40" stroke-width="0.34" textLength="5.5" lengthAdjust="spacingAndGlyphs" >R3</text><text x="205.4" y="354.9" font-family="Liberation Serif" font-size="6.8" fill="#1e1e40" font-weight="normal" text-anchor="start" stroke="#1e1e40" stroke-width="0.34" textLength="10" lengthAdjust="spacingAndGlyphs" >100Ω</text><rect x="205.4" y="363.0" width="9.400000000000006" height="3.4" rx="1.4" fill="#dcdcf4" stroke="#4a4ac0" stroke-width="0.9"/><text x="205.4" y="362.09999999999997" font-family="Liberation Serif" font-size="6.8" fill="#1e1e40" font-weight="normal" text-anchor="start" stroke="#1e1e40" stroke-width="0.34" textLength="5.5" lengthAdjust="spacingAndGlyphs" >R7</text><text x="205.4" y="371.7" font-family="Liberation Serif" font-size="6.8" fill="#1e1e40" font-weight="normal" text-anchor="start" stroke="#1e1e40" stroke-width="0.34" textLength="5" lengthAdjust="spacingAndGlyphs" >1K</text><rect x="205.4" y="379.2" width="9.400000000000006" height="3.4" rx="1.4" fill="#dcdcf4" stroke="#4a4ac0" stroke-width="0.9"/><text x="205.4" y="378.29999999999995" font-family="Liberation Serif" font-size="6.8" fill="#1e1e40" font-weight="normal" text-anchor="start" stroke="#1e1e40" stroke-width="0.34" textLength="5.5" lengthAdjust="spacingAndGlyphs" >R1</text><text x="205.4" y="387.9" font-family="Liberation Serif" font-size="6.8" fill="#1e1e40" font-weight="normal" text-anchor="start" stroke="#1e1e40" stroke-width="0.34" textLength="10" lengthAdjust="spacingAndGlyphs" >100Ω</text><rect x="228.3" y="404" width="4" height="9.5" rx="1.5" fill="#dcdcf4" stroke="#4a4ac0" stroke-width="0.9"/><text x="232" y="408.5" font-family="Liberation Serif" font-size="6.3" fill="#1e1e40" font-weight="normal" text-anchor="start" stroke="#1e1e40" stroke-width="0.34" textLength="7.5" lengthAdjust="spacingAndGlyphs" >R22</text><text x="232" y="414" font-family="Liberation Serif" font-size="6.3" fill="#1e1e40" font-weight="normal" text-anchor="start" stroke="#1e1e40" stroke-width="0.34" textLength="7" lengthAdjust="spacingAndGlyphs" >10K</text><text x="160" y="415" font-family="Liberation Serif" font-size="6.3" fill="#1e1e40" font-weight="normal" text-anchor="start" stroke="#1e1e40" stroke-width="0.34" textLength="6.8" lengthAdjust="spacingAndGlyphs" >C14</text><text x="175" y="415" font-family="Liberation Serif" font-size="6.3" fill="#1e1e40" font-weight="normal" text-anchor="start" stroke="#1e1e40" stroke-width="0.34" textLength="6.8" lengthAdjust="spacingAndGlyphs" >C15</text><text x="188.2" y="415" font-family="Liberation Serif" font-size="6.3" fill="#1e1e40" font-weight="normal" text-anchor="start" stroke="#1e1e40" stroke-width="0.34" textLength="6.8" lengthAdjust="spacingAndGlyphs" >C16</text><text x="118.8" y="415" font-family="Liberation Serif" font-size="6.3" fill="#1e1e40" font-weight="normal" text-anchor="start" stroke="#1e1e40" stroke-width="0.34" textLength="6.8" lengthAdjust="spacingAndGlyphs" >C10</text><text x="136" y="415" font-family="Liberation Serif" font-size="6.3" fill="#1e1e40" font-weight="normal" text-anchor="start" stroke="#1e1e40" stroke-width="0.34" textLength="6.8" lengthAdjust="spacingAndGlyphs" >C11</text><text x="128.3" y="413" font-family="Liberation Serif" font-size="5" fill="#1e1e40" font-weight="normal" text-anchor="start" stroke="#1e1e40" stroke-width="0.34" >+</text><path d="M0,75.2 L22,75.2" stroke="#7474ac" stroke-width="1" fill="none"/><path d="M0,89.3 L22,89.3" stroke="#7474ac" stroke-width="1" fill="none"/><path d="M22,103.4 L1.5,103.4 L1.5,319.6" stroke="#7474ac" stroke-width="1" fill="none"/><path d="M0,117.5 L22,117.5" stroke="#7474ac" stroke-width="1" fill="none"/><path d="M0,188.1 L10.5,188.1 L10.5,287.0 L22,287.0" stroke="#7474ac" stroke-width="1" fill="none"/><path d="M0,244.7 L22,244.7" stroke="#7474ac" stroke-width="1" fill="none"/><path d="M0,258.8 L22,258.8" stroke="#7474ac" stroke-width="1" fill="none"/><path d="M0,272.9 L22,272.9" stroke="#7474ac" stroke-width="1" fill="none"/><path d="M338,0 L338,164.55 L314.8,164.55" stroke="#7474ac" stroke-width="1" fill="none"/><circle cx="338" cy="108.0" r="2.2" fill="#15156a"/><path d="M350.2,0 L350.2,202.25 L314.8,202.25" stroke="#7474ac" stroke-width="1" fill="none"/><circle cx="350.2" cy="13.9" r="2.2" fill="#15156a"/><path d="M362.4,0 L362.4,181.25 L510.4,181.25" stroke="#7474ac" stroke-width="1" fill="none"/><circle cx="422.4" cy="181.25" r="2.2" fill="#15156a"/><path d="M350.2,13.9 L406.2,13.9 L406.2,23" stroke="#7474ac" stroke-width="1" fill="none"/><rect x="390.5" y="22.9" width="30.9" height="36.3" stroke="#8080d0" stroke-width="0.8" fill="#d4d4f4" rx="0"/><rect x="393.2" y="25.5" width="25.3" height="31.3" stroke="#8c8cd4" stroke-width="0.7" fill="#ffffff" rx="0"/><text x="391" y="21.8" font-family="Liberation Serif" font-size="6.5" fill="#111133" font-weight="bold" text-anchor="start" stroke="#111133" stroke-width="0.34" textLength="4" lengthAdjust="spacingAndGlyphs" >F1</text><path d="M405.6,41 Q396.8,34.4 403.3,27.7 Q402.4,34.8 405.6,41" stroke="#6060b8" stroke-width="0.7" fill="none"/><path d="M405.6,41 Q409.2,30.6 417.5,34.7 Q410.5,36.0 405.6,41" stroke="#6060b8" stroke-width="0.7" fill="none"/><path d="M405.6,41 Q416.6,41.2 415.3,50.4 Q411.8,44.2 405.6,41" stroke="#6060b8" stroke-width="0.7" fill="none"/><path d="M405.6,41 Q408.8,51.5 399.7,53.1 Q404.5,47.9 405.6,41" stroke="#6060b8" stroke-width="0.7" fill="none"/><path d="M405.6,41 Q396.6,47.3 392.2,39.1 Q398.7,42.1 405.6,41" stroke="#6060b8" stroke-width="0.7" fill="none"/><circle cx="405.6" cy="41" r="0.9" fill="#404090"/><path d="M406.2,59.5 L406.2,72" stroke="#7474ac" stroke-width="1" fill="none"/><ellipse cx="401.8" cy="79.7" rx="7.6" ry="9.4" stroke="#6a6ac0" fill="none" stroke-width="1"/><path d="M399.5,75.5 L399.5,84.5" stroke="#3030a0" stroke-width="1.3" fill="none"/><path d="M399.5,78 L406.2,72.5" stroke="#3030a0" stroke-width="1" fill="none"/><path d="M399.5,82 L406.2,87.5" stroke="#3030a0" stroke-width="1" fill="none"/><path d="M406.2,87.5 L402.5,86.5 L405,84 Z" fill="#3030a0"/><path d="M406.2,87.5 L406.2,100.5" stroke="#7474ac" stroke-width="1" fill="none"/><path d="M401.7,100.5 L410.7,100.5 L406.2,104.7 Z" fill="#dcdcdc" stroke="#8a8a8a" stroke-width="0.9"/><text x="410" y="77" font-family="Liberation Serif" font-size="6.3" fill="#1e1e40" font-weight="normal" text-anchor="start" stroke="#1e1e40" stroke-width="0.34" textLength="5" lengthAdjust="spacingAndGlyphs" >Q1</text><text x="410.3" y="85.8" font-family="Liberation Serif" font-size="6.3" fill="#1e1e40" font-weight="normal" text-anchor="start" stroke="#1e1e40" stroke-width="0.34" textLength="9.4" lengthAdjust="spacingAndGlyphs" >9050</text><path d="M323.75,80 L399.5,80" stroke="#7474ac" stroke-width="1" fill="none"/><path d="M314.8,108.0 L324.25,108.0 L324.25,80" stroke="#7474ac" stroke-width="1" fill="none"/><rect x="373.75" y="78.3" width="8.75" height="3.4" rx="1.4" fill="#dcdcf4" stroke="#4a4ac0" stroke-width="0.9"/><text x="373.5" y="76" font-family="Liberation Serif" font-size="6.3" fill="#1e1e40" font-weight="normal" text-anchor="start" stroke="#1e1e40" stroke-width="0.34" textLength="7.5" lengthAdjust="spacingAndGlyphs" >R25</text><text x="373.5" y="88" font-family="Liberation Serif" font-size="6.3" fill="#1e1e40" font-weight="normal" text-anchor="start" stroke="#1e1e40" stroke-width="0.34" textLength="8" lengthAdjust="spacingAndGlyphs" >2.2K</text><path d="M338,108.0 L422.7,108.0 L422.7,123.3" stroke="#7474ac" stroke-width="1" fill="none"/><circle cx="406.2" cy="108.0" r="1.1" fill="#15156a"/><rect x="374" y="106.3" width="9" height="3.4" rx="1.4" fill="#dcdcf4" stroke="#4a4ac0" stroke-width="0.9"/><text x="375" y="104.5" font-family="Liberation Serif" font-size="6.3" fill="#1e1e40" font-weight="normal" text-anchor="start" stroke="#1e1e40" stroke-width="0.34" textLength="8" lengthAdjust="spacingAndGlyphs" >RT1</text><text x="370.7" y="117" font-family="Liberation Serif" font-size="6.3" fill="#1e1e40" font-weight="normal" text-anchor="start" stroke="#1e1e40" stroke-width="0.34" textLength="18.3" lengthAdjust="spacingAndGlyphs" >NTC10K</text><path d="M418.5,123.3 L426.9,123.3" stroke="#6a6ad0" stroke-width="1.1" fill="none"/><path d="M418.5,125.8 L426.9,125.8" stroke="#6a6ad0" stroke-width="1.1" fill="none"/><path d="M422.7,125.8 L422.7,154" stroke="#7474ac" stroke-width="1" fill="none"/><path d="M418.2,154 L427.2,154 L422.7,158.2 Z" fill="#dcdcdc" stroke="#8a8a8a" stroke-width="0.9"/><text x="412.8" y="125" font-family="Liberation Serif" font-size="6.3" fill="#1e1e40" font-weight="normal" text-anchor="start" stroke="#1e1e40" stroke-width="0.34" textLength="7" lengthAdjust="spacingAndGlyphs" >C14</text><text x="408" y="133.6" font-family="Liberation Serif" font-size="6.3" fill="#1e1e40" font-weight="normal" text-anchor="start" stroke="#1e1e40" stroke-width="0.34" textLength="12.6" lengthAdjust="spacingAndGlyphs" >0.01uF</text><path d="M314.8,126.85 L406.2,126.85 L406.2,108.0" stroke="#7474ac" stroke-width="1" fill="none"/><path d="M314.8,145.70000000000002 L406.2,145.70000000000002 L406.2,166.5 L450,166.5 L450,108 L560.7,108 L560.7,258.7" stroke="#7474ac" stroke-width="1" fill="none"/><circle cx="467.5" cy="108" r="1.1" fill="#15156a"/><circle cx="485.75" cy="108" r="1.1" fill="#15156a"/><circle cx="504.25" cy="108" r="1.1" fill="#15156a"/><circle cx="515.75" cy="108" r="1.1" fill="#15156a"/><path d="M467.5,108 L467.5,121" stroke="#7474ac" stroke-width="1" fill="none"/><path d="M463.5,121 L471.5,121" stroke="#6a6ad0" stroke-width="1.1" fill="none"/><path d="M463.5,123.8 L471.5,123.8" stroke="#6a6ad0" stroke-width="1.1" fill="none"/><path d="M467.5,123.8 L467.5,150 L504.25,150" stroke="#7474ac" stroke-width="1" fill="none"/><text x="470.5" y="123" font-family="Liberation Serif" font-size="6.3" fill="#1e1e40" font-weight="normal" text-anchor="start" stroke="#1e1e40" stroke-width="0.34" textLength="7" lengthAdjust="spacingAndGlyphs" >C23</text><text x="470" y="130" font-family="Liberation Serif" font-size="6.3" fill="#1e1e40" font-weight="normal" text-anchor="start" stroke="#1e1e40" stroke-width="0.34" textLength="11" lengthAdjust="spacingAndGlyphs" >0.1uF</text><path d="M485.75,108 L485.75,118.75" stroke="#7474ac" stroke-width="1" fill="none"/><rect x="483.75" y="118.75" width="4" height="11.25" rx="1.5" fill="#dcdcf4" stroke="#4a4ac0" stroke-width="0.9"/><path d="M485.75,130 L485.75,155.5" stroke="#7474ac" stroke-width="1" fill="none"/><path d="M481.25,155.5 L490.25,155.5 L485.75,159.7 Z" fill="#dcdcdc" stroke="#8a8a8a" stroke-width="0.9"/><circle cx="485.75" cy="150" r="1.3" fill="#15156a"/><text x="488.75" y="123" font-family="Liberation Serif" font-size="6.3" fill="#1e1e40" font-weight="normal" text-anchor="start" stroke="#1e1e40" stroke-width="0.34" textLength="6.5" lengthAdjust="spacingAndGlyphs" >R21</text><text x="488.75" y="130" font-family="Liberation Serif" font-size="6.3" fill="#1e1e40" font-weight="normal" text-anchor="start" stroke="#1e1e40" stroke-width="0.34" textLength="6.5" lengthAdjust="spacingAndGlyphs" >10K</text><path d="M504.25,108 L504.25,118.75" stroke="#7474ac" stroke-width="1" fill="none"/><rect x="502.25" y="118.75" width="4" height="11.25" rx="1.5" fill="#dcdcf4" stroke="#4a4ac0" stroke-width="0.9"/><path d="M504.25,130 L504.25,150" stroke="#7474ac" stroke-width="1" fill="none"/><path d="M515.75,108 L515.75,125 L507,125" stroke="#7474ac" stroke-width="1" fill="none"/><path d="M506.3,125 L509.5,123 L509.5,127 Z" fill="#3030a0"/><text x="507" y="123" font-family="Liberation Serif" font-size="6.3" fill="#1e1e40" font-weight="normal" text-anchor="start" stroke="#1e1e40" stroke-width="0.34" textLength="7" lengthAdjust="spacingAndGlyphs" >RW8</text><text x="507" y="130" font-family="Liberation Serif" font-size="6.3" fill="#1e1e40" font-weight="normal" text-anchor="start" stroke="#1e1e40" stroke-width="0.34" textLength="6.5" lengthAdjust="spacingAndGlyphs" >10K</text><rect x="529.5" y="106.3" width="9.25" height="3.4" rx="1.4" fill="#dcdcf4" stroke="#4a4ac0" stroke-width="0.9"/><text x="529.5" y="104.5" font-family="Liberation Serif" font-size="6.3" fill="#1e1e40" font-weight="normal" text-anchor="start" stroke="#1e1e40" stroke-width="0.34" textLength="7" lengthAdjust="spacingAndGlyphs" >R20</text><text x="529.5" y="115.5" font-family="Liberation Serif" font-size="6.3" fill="#1e1e40" font-weight="normal" text-anchor="start" stroke="#1e1e40" stroke-width="0.34" textLength="9.5" lengthAdjust="spacingAndGlyphs" >200K</text><path d="M422.4,181.25 L422.4,357.5 L510.4,357.5" stroke="#7474ac" stroke-width="1" fill="none"/><path d="M510.4,181.25 L510.4,409.5" stroke="#7474ac" stroke-width="1" fill="none"/><circle cx="510.4" cy="357.5" r="1.3" fill="#15156a"/><circle cx="510.4" cy="409.5" r="1.3" fill="#15156a"/><path d="M314.8,409.6 L510.4,409.6" stroke="#7474ac" stroke-width="1" fill="none"/><path d="M314.8,239.95000000000002 L362,239.95000000000002 L362,220.9" stroke="#7474ac" stroke-width="1" fill="none"/><path d="M314.8,258.8 L586,258.8" stroke="#7474ac" stroke-width="1" fill="none"/><circle cx="422.4" cy="258.8" r="1.4" fill="#15156a"/><circle cx="560.7" cy="258.8" r="1.4" fill="#15156a"/><path d="M314.8,277.65 L342.2,277.65 L342.2,305.9 L361.8,305.9" stroke="#7474ac" stroke-width="1" fill="none"/><path d="M314.8,315.35 L332.4,315.35 L332.4,291.4 L448.6,291.4 L448.6,220.7" stroke="#7474ac" stroke-width="1" fill="none"/><path d="M314.8,334.2 L352.4,334.2 L352.4,277.9 L586,277.9" stroke="#7474ac" stroke-width="1" fill="none"/><circle cx="510.4" cy="277.9" r="1.4" fill="#15156a"/><circle cx="560.7" cy="277.9" r="1.4" fill="#15156a"/><path d="M314.8,371.9 L448.6,371.9 L448.6,319.7" stroke="#7474ac" stroke-width="1" fill="none"/><path d="M362,207 L392.2,207" stroke="#7474ac" stroke-width="1" fill="none"/><path d="M362,207 L362,220.9" stroke="#7474ac" stroke-width="1" fill="none"/><path d="M392.2,207 L392.2,237.6 L422.4,237.6" stroke="#7474ac" stroke-width="1" fill="none"/><path d="M373.8,207 L378.40000000000003,202.7 L378.40000000000003,211.3 Z" fill="#1c1cd0"/><path d="M373.8,202.7 L373.8,211.3" stroke="#1c1cd0" stroke-width="1.3" fill="none"/><text x="365.1" y="199.9" font-family="Liberation Sans" font-size="5.8" fill="#111" font-weight="bold" text-anchor="start" stroke="#111" stroke-width="0.45" textLength="21.5" lengthAdjust="spacingAndGlyphs" >t4 diode</text><path d="M362,220.9 L412.2,220.9" stroke="#7474ac" stroke-width="1" fill="none"/><circle cx="362" cy="220.9" r="1.2" fill="#15156a"/><circle cx="392.2" cy="220.9" r="1.2" fill="#15156a"/><rect x="372.6" y="219.20000000000002" width="8.399999999999977" height="3.4" rx="1.4" fill="#dcdcf4" stroke="#4a4ac0" stroke-width="0.9"/><text x="372.8" y="218.3" font-family="Liberation Serif" font-size="6.8" fill="#2424a8" font-weight="bold" text-anchor="start" stroke="#2424a8" stroke-width="0.34" textLength="6.8" lengthAdjust="spacingAndGlyphs" >R11</text><text x="369.3" y="228.5" font-family="Liberation Sans" font-size="5.8" fill="#111" font-weight="bold" text-anchor="start" stroke="#111" stroke-width="0.45" textLength="19.8" lengthAdjust="spacingAndGlyphs" >5.1ohm</text><rect x="404" y="235.9" width="8.800000000000011" height="3.4" rx="1.4" fill="#dcdcf4" stroke="#4a4ac0" stroke-width="0.9"/><text x="404.4" y="235.1" font-family="Liberation Serif" font-size="6.8" fill="#2424a8" font-weight="bold" text-anchor="start" stroke="#2424a8" stroke-width="0.34" textLength="6.8" lengthAdjust="spacingAndGlyphs" >R13</text><text x="400.7" y="245.6" font-family="Liberation Sans" font-size="5.8" fill="#111" font-weight="bold" text-anchor="start" stroke="#111" stroke-width="0.45" textLength="11.5" lengthAdjust="spacingAndGlyphs" >4.7k</text><circle cx="422.4" cy="237.6" r="1.2" fill="#15156a"/><ellipse cx="422.0" cy="215.6" rx="11.5" ry="13.7" stroke="#6a6ac8" fill="none" stroke-width="1"/><path d="M412.2,220.9 L412.2,207.6" stroke="#6a6ac0" stroke-width="1" fill="none"/><path d="M414.8,208.0 L414.8,223.7" stroke="#6a6ac0" stroke-width="1" fill="none"/><path d="M414.8,208.4 L426.5,208.4" stroke="#6a6ac0" stroke-width="1" fill="none"/><path d="M414.8,223.2 L426.5,223.2" stroke="#6a6ac0" stroke-width="1" fill="none"/><path d="M415.5,215.6 L418.7,212.0 L418.7,219.2 Z" fill="#e0e0e0" stroke="#a0a0a0" stroke-width="0.7"/><path d="M418.7,215.6 L423.5,215.6" stroke="#a0a0a0" stroke-width="0.8" fill="none"/><path d="M427.0,208.4 L427.0,223.2" stroke="#8a8ad0" stroke-width="0.8" fill="none"/><path d="M423.9,217.79999999999998 L430.1,217.79999999999998 L427.0,212.6 Z" fill="#1c1cd0"/><path d="M423.8,212.6 L430.2,212.6" stroke="#1c1cd0" stroke-width="1.1" fill="none"/><rect x="400.4" y="190.4" width="42" height="9" fill="#fff"/><text x="401.9" y="197.4" font-family="Liberation Sans" font-size="5.8" fill="#111" font-weight="bold" text-anchor="start" stroke="#111" stroke-width="0.45" textLength="39" lengthAdjust="spacingAndGlyphs" >g30n60a4 igbt</text><path d="M448.6,207.1 L480.3,207.1" stroke="#7474ac" stroke-width="1" fill="none"/><path d="M448.6,207.1 L448.6,220.7" stroke="#7474ac" stroke-width="1" fill="none"/><path d="M480.3,207.1 L480.3,237.9 L510.4,237.9" stroke="#7474ac" stroke-width="1" fill="none"/><path d="M462,207.1 L466.6,202.79999999999998 L466.6,211.4 Z" fill="#1c1cd0"/><path d="M462,202.79999999999998 L462,211.4" stroke="#1c1cd0" stroke-width="1.3" fill="none"/><text x="452.3" y="198.3" font-family="Liberation Sans" font-size="5.8" fill="#111" font-weight="bold" text-anchor="start" stroke="#111" stroke-width="0.45" textLength="21.5" lengthAdjust="spacingAndGlyphs" >t4 diode</text><path d="M448.6,220.7 L499.9,220.7" stroke="#7474ac" stroke-width="1" fill="none"/><circle cx="448.6" cy="220.7" r="1.2" fill="#15156a"/><circle cx="480.3" cy="220.7" r="1.2" fill="#15156a"/><rect x="459.2" y="219.0" width="8.399999999999977" height="3.4" rx="1.4" fill="#dcdcf4" stroke="#4a4ac0" stroke-width="0.9"/><text x="459.4" y="218.1" font-family="Liberation Serif" font-size="6.8" fill="#2424a8" font-weight="bold" text-anchor="start" stroke="#2424a8" stroke-width="0.34" textLength="6.8" lengthAdjust="spacingAndGlyphs" >R12</text><text x="455.1" y="229.1" font-family="Liberation Sans" font-size="5.8" fill="#111" font-weight="bold" text-anchor="start" stroke="#111" stroke-width="0.45" textLength="19.8" lengthAdjust="spacingAndGlyphs" >5.1ohm</text><rect x="491.3" y="236.20000000000002" width="8.800000000000011" height="3.4" rx="1.4" fill="#dcdcf4" stroke="#4a4ac0" stroke-width="0.9"/><text x="491.7" y="235.4" font-family="Liberation Serif" font-size="6.8" fill="#2424a8" font-weight="bold" text-anchor="start" stroke="#2424a8" stroke-width="0.34" textLength="6.8" lengthAdjust="spacingAndGlyphs" >R14</text><text x="492.7" y="246.1" font-family="Liberation Sans" font-size="5.8" fill="#111" font-weight="bold" text-anchor="start" stroke="#111" stroke-width="0.45" textLength="11.5" lengthAdjust="spacingAndGlyphs" >4.7k</text><circle cx="510.4" cy="237.9" r="1.2" fill="#15156a"/><ellipse cx="509.7" cy="215.8" rx="11.5" ry="13.7" stroke="#6a6ac8" fill="none" stroke-width="1"/><path d="M499.9,220.7 L499.9,207.8" stroke="#6a6ac0" stroke-width="1" fill="none"/><path d="M502.5,208.20000000000002 L502.5,223.9" stroke="#6a6ac0" stroke-width="1" fill="none"/><path d="M502.5,208.60000000000002 L514.2,208.60000000000002" stroke="#6a6ac0" stroke-width="1" fill="none"/><path d="M502.5,223.4 L514.2,223.4" stroke="#6a6ac0" stroke-width="1" fill="none"/><path d="M503.2,215.8 L506.4,212.20000000000002 L506.4,219.4 Z" fill="#e0e0e0" stroke="#a0a0a0" stroke-width="0.7"/><path d="M506.4,215.8 L511.2,215.8" stroke="#a0a0a0" stroke-width="0.8" fill="none"/><path d="M514.7,208.60000000000002 L514.7,223.4" stroke="#8a8ad0" stroke-width="0.8" fill="none"/><path d="M511.59999999999997,218.0 L517.8,218.0 L514.7,212.8 Z" fill="#1c1cd0"/><path d="M511.5,212.8 L517.9,212.8" stroke="#1c1cd0" stroke-width="1.1" fill="none"/><text x="517.1" y="235.3" font-family="Liberation Sans" font-size="5.8" fill="#111" font-weight="bold" text-anchor="start" stroke="#111" stroke-width="0.45" textLength="39" lengthAdjust="spacingAndGlyphs" >g30n60a4 igbt</text><text x="522.5" y="226.3" font-family="Liberation Serif" font-size="6.3" fill="#1e1e40" font-weight="normal" text-anchor="start" stroke="#1e1e40" stroke-width="0.34" textLength="4.7" lengthAdjust="spacingAndGlyphs" >Q2</text><path d="M361.8,305.9 L391.8,305.9" stroke="#7474ac" stroke-width="1" fill="none"/><path d="M361.8,305.9 L361.8,319.9" stroke="#7474ac" stroke-width="1" fill="none"/><path d="M391.8,305.9 L391.8,336.3 L422.4,336.3" stroke="#7474ac" stroke-width="1" fill="none"/><path d="M373.8,305.9 L378.40000000000003,301.59999999999997 L378.40000000000003,310.2 Z" fill="#1c1cd0"/><path d="M373.8,301.59999999999997 L373.8,310.2" stroke="#1c1cd0" stroke-width="1.3" fill="none"/><text x="368.6" y="300.8" font-family="Liberation Sans" font-size="5.8" fill="#111" font-weight="bold" text-anchor="start" stroke="#111" stroke-width="0.45" textLength="21.5" lengthAdjust="spacingAndGlyphs" >t4 diode</text><path d="M361.8,319.9 L412.09999999999997,319.9" stroke="#7474ac" stroke-width="1" fill="none"/><circle cx="361.8" cy="305.9" r="1.2" fill="#15156a"/><circle cx="391.8" cy="319.9" r="1.2" fill="#15156a"/><rect x="374.4" y="318.2" width="8.399999999999977" height="3.4" rx="1.4" fill="#dcdcf4" stroke="#4a4ac0" stroke-width="0.9"/><text x="374.59999999999997" y="317.29999999999995" font-family="Liberation Serif" font-size="6.8" fill="#2424a8" font-weight="bold" text-anchor="start" stroke="#2424a8" stroke-width="0.34" textLength="6.8" lengthAdjust="spacingAndGlyphs" >R15</text><text x="368.7" y="329.3" font-family="Liberation Sans" font-size="5.8" fill="#111" font-weight="bold" text-anchor="start" stroke="#111" stroke-width="0.45" textLength="19.8" lengthAdjust="spacingAndGlyphs" >5.1ohm</text><rect x="401.8" y="334.6" width="8.800000000000011" height="3.4" rx="1.4" fill="#dcdcf4" stroke="#4a4ac0" stroke-width="0.9"/><text x="402.2" y="333.8" font-family="Liberation Serif" font-size="6.8" fill="#2424a8" font-weight="bold" text-anchor="start" stroke="#2424a8" stroke-width="0.34" textLength="6.8" lengthAdjust="spacingAndGlyphs" >R17</text><text x="396.3" y="346.9" font-family="Liberation Sans" font-size="5.8" fill="#111" font-weight="bold" text-anchor="start" stroke="#111" stroke-width="0.45" textLength="11.5" lengthAdjust="spacingAndGlyphs" >4.7k</text><circle cx="422.4" cy="336.3" r="1.2" fill="#15156a"/><ellipse cx="421.9" cy="314.7" rx="11.5" ry="13.7" stroke="#6a6ac8" fill="none" stroke-width="1"/><path d="M412.09999999999997,319.9 L412.09999999999997,306.7" stroke="#6a6ac0" stroke-width="1" fill="none"/><path d="M414.7,307.09999999999997 L414.7,322.8" stroke="#6a6ac0" stroke-width="1" fill="none"/><path d="M414.7,307.5 L426.4,307.5" stroke="#6a6ac0" stroke-width="1" fill="none"/><path d="M414.7,322.3 L426.4,322.3" stroke="#6a6ac0" stroke-width="1" fill="none"/><path d="M415.4,314.7 L418.59999999999997,311.09999999999997 L418.59999999999997,318.3 Z" fill="#e0e0e0" stroke="#a0a0a0" stroke-width="0.7"/><path d="M418.59999999999997,314.7 L423.4,314.7" stroke="#a0a0a0" stroke-width="0.8" fill="none"/><path d="M426.9,307.5 L426.9,322.3" stroke="#8a8ad0" stroke-width="0.8" fill="none"/><path d="M423.79999999999995,316.9 L430.0,316.9 L426.9,311.7 Z" fill="#1c1cd0"/><path d="M423.7,311.7 L430.09999999999997,311.7" stroke="#1c1cd0" stroke-width="1.1" fill="none"/><rect x="405.2" y="290.4" width="42" height="9" fill="#fff"/><text x="406.7" y="297.4" font-family="Liberation Sans" font-size="5.8" fill="#111" font-weight="bold" text-anchor="start" stroke="#111" stroke-width="0.45" textLength="39" lengthAdjust="spacingAndGlyphs" >g30n60a4 igbt</text><path d="M448.6,306 L480.3,306" stroke="#7474ac" stroke-width="1" fill="none"/><path d="M448.6,306 L448.6,319.7" stroke="#7474ac" stroke-width="1" fill="none"/><path d="M480.3,306 L480.3,336 L510.4,336" stroke="#7474ac" stroke-width="1" fill="none"/><path d="M464,306 L468.6,301.7 L468.6,310.3 Z" fill="#1c1cd0"/><path d="M464,301.7 L464,310.3" stroke="#1c1cd0" stroke-width="1.3" fill="none"/><text x="459.8" y="300.9" font-family="Liberation Sans" font-size="5.8" fill="#111" font-weight="bold" text-anchor="start" stroke="#111" stroke-width="0.45" textLength="21.5" lengthAdjust="spacingAndGlyphs" >t4 diode</text><path d="M448.6,319.7 L499.9,319.7" stroke="#7474ac" stroke-width="1" fill="none"/><circle cx="448.6" cy="319.7" r="1.2" fill="#15156a"/><circle cx="480.3" cy="319.7" r="1.2" fill="#15156a"/><rect x="462" y="318.0" width="8.399999999999977" height="3.4" rx="1.4" fill="#dcdcf4" stroke="#4a4ac0" stroke-width="0.9"/><text x="462.2" y="317.09999999999997" font-family="Liberation Serif" font-size="6.8" fill="#2424a8" font-weight="bold" text-anchor="start" stroke="#2424a8" stroke-width="0.34" textLength="6.8" lengthAdjust="spacingAndGlyphs" >R16</text><text x="456.6" y="328.6" font-family="Liberation Sans" font-size="5.8" fill="#111" font-weight="bold" text-anchor="start" stroke="#111" stroke-width="0.45" textLength="19.8" lengthAdjust="spacingAndGlyphs" >5.1ohm</text><rect x="491.7" y="334.3" width="8.800000000000011" height="3.4" rx="1.4" fill="#dcdcf4" stroke="#4a4ac0" stroke-width="0.9"/><text x="492.09999999999997" y="333.5" font-family="Liberation Serif" font-size="6.8" fill="#2424a8" font-weight="bold" text-anchor="start" stroke="#2424a8" stroke-width="0.34" textLength="6.8" lengthAdjust="spacingAndGlyphs" >R18</text><text x="491.2" y="344.9" font-family="Liberation Sans" font-size="5.8" fill="#111" font-weight="bold" text-anchor="start" stroke="#111" stroke-width="0.45" textLength="11.5" lengthAdjust="spacingAndGlyphs" >4.7k</text><circle cx="510.4" cy="336" r="1.2" fill="#15156a"/><ellipse cx="509.7" cy="315.8" rx="11.5" ry="13.7" stroke="#6a6ac8" fill="none" stroke-width="1"/><path d="M499.9,319.7 L499.9,307.8" stroke="#6a6ac0" stroke-width="1" fill="none"/><path d="M502.5,308.2 L502.5,323.90000000000003" stroke="#6a6ac0" stroke-width="1" fill="none"/><path d="M502.5,308.6 L514.2,308.6" stroke="#6a6ac0" stroke-width="1" fill="none"/><path d="M502.5,323.40000000000003 L514.2,323.40000000000003" stroke="#6a6ac0" stroke-width="1" fill="none"/><path d="M503.2,315.8 L506.4,312.2 L506.4,319.40000000000003 Z" fill="#e0e0e0" stroke="#a0a0a0" stroke-width="0.7"/><path d="M506.4,315.8 L511.2,315.8" stroke="#a0a0a0" stroke-width="0.8" fill="none"/><path d="M514.7,308.6 L514.7,323.40000000000003" stroke="#8a8ad0" stroke-width="0.8" fill="none"/><path d="M511.59999999999997,318.0 L517.8,318.0 L514.7,312.8 Z" fill="#1c1cd0"/><path d="M511.5,312.8 L517.9,312.8" stroke="#1c1cd0" stroke-width="1.1" fill="none"/><text x="517.1" y="341.7" font-family="Liberation Sans" font-size="5.8" fill="#111" font-weight="bold" text-anchor="start" stroke="#111" stroke-width="0.45" textLength="39" lengthAdjust="spacingAndGlyphs" >g30n60a4 igbt</text><text x="522.5" y="325.6" font-family="Liberation Serif" font-size="6.3" fill="#1e1e40" font-weight="normal" text-anchor="start" stroke="#1e1e40" stroke-width="0.34" textLength="4.7" lengthAdjust="spacingAndGlyphs" >Q4</text><path d="M560.7,258.7 L560.7,264.5" stroke="#7474ac" stroke-width="1" fill="none"/><path d="M556.5,264.5 L564.9,264.5" stroke="#6a6ad0" stroke-width="1.1" fill="none"/><path d="M556.5,267.5 L564.9,267.5" stroke="#6a6ad0" stroke-width="1.1" fill="none"/><path d="M560.7,267.5 L560.7,277.9" stroke="#7474ac" stroke-width="1" fill="none"/><text x="563" y="265.5" font-family="Liberation Serif" font-size="6.3" fill="#1e1e40" font-weight="normal" text-anchor="start" stroke="#1e1e40" stroke-width="0.34" textLength="7" lengthAdjust="spacingAndGlyphs" >C22</text><text x="562.5" y="273" font-family="Liberation Serif" font-size="6.3" fill="#1e1e40" font-weight="normal" text-anchor="start" stroke="#1e1e40" stroke-width="0.34" textLength="10" lengthAdjust="spacingAndGlyphs" >2.2uF</text><rect x="526" y="257.2" width="16" height="3" fill="#fff"/><path d="M526,259.2 q2,-3.6 4,0 q2,-3.6 4,0 q2,-3.6 4,0 q2,-3.6 4,0" stroke="#6060c0" fill="none" stroke-width="0.9"/><path d="M526,252.0 L542.5,252.0" stroke="#8888dd" stroke-width="1.0" fill="none"/><path d="M526,253.6 L542.5,253.6" stroke="#8888dd" stroke-width="1.0" fill="none"/><text x="526" y="249" font-family="Liberation Serif" font-size="6" fill="#1c1cd0" font-weight="normal" text-anchor="start" stroke="#1c1cd0" stroke-width="0.34" textLength="4.5" lengthAdjust="spacingAndGlyphs" >L1</text><rect x="586.2" y="251.8" width="12.3" height="13.8" stroke="#777" stroke-width="1" fill="#fafafa" rx="0"/><text x="592.2" y="262.6" font-family="Liberation Serif" font-size="8.6" fill="#444" font-weight="normal" text-anchor="middle" stroke="none">L</text><rect x="586.2" y="270.7" width="12.3" height="13.8" stroke="#777" stroke-width="1" fill="#fafafa" rx="0"/><text x="592.2" y="281.5" font-family="Liberation Serif" font-size="8.6" fill="#444" font-weight="normal" text-anchor="middle" stroke="none">N</text><text x="599.2" y="262" font-family="Liberation Serif" font-size="6.8" fill="#1e1e40" font-weight="normal" text-anchor="start" stroke="#1e1e40" stroke-width="0.34" textLength="6" lengthAdjust="spacingAndGlyphs" >P2</text><text x="599.2" y="280.2" font-family="Liberation Serif" font-size="6.8" fill="#1e1e40" font-weight="normal" text-anchor="start" stroke="#1e1e40" stroke-width="0.34" textLength="6" lengthAdjust="spacingAndGlyphs" >P3</text><path d="M425.34,28.90L428.40,28.90M426.02,27.54L426.02,30.26M427.38,27.54L427.38,30.26M425.34,30.26L428.40,30.26M425.68,30.94L425.68,33.66M425.68,30.94L428.06,30.94M428.06,30.94L428.06,33.66M425.68,32.30L428.06,32.30M429.42,27.54L428.74,29.92M429.08,28.90L431.46,28.90M430.44,28.90L429.08,33.66M429.42,29.92L431.46,33.66" stroke="#303050" stroke-width="0.85" fill="none" stroke-linecap="square"/><path d="M432.84,28.90L434.88,28.90M433.86,27.54L433.86,31.28M432.84,30.94L434.88,30.26M435.22,28.56L437.94,28.56M436.58,27.54L436.58,29.92M436.58,29.92L435.90,31.28M437.94,28.56L438.28,30.94M433.18,32.64L433.52,33.66M434.88,32.64L435.08,33.66M436.58,32.64L436.78,33.66M438.28,32.64L438.82,33.66" stroke="#303050" stroke-width="0.85" fill="none" stroke-linecap="square"/><path d="M441.02,27.88L441.02,31.28M441.02,31.28L440.34,33.66M441.02,27.88L445.44,27.88M445.44,27.88L445.44,32.98M445.44,32.98L446.46,33.66M442.38,29.58L444.42,32.30M444.42,29.58L442.38,32.30" stroke="#303050" stroke-width="0.85" fill="none" stroke-linecap="square"/><path d="M450.22,27.20L450.90,27.88M448.52,28.22L453.28,28.22M448.52,28.22L448.52,29.92M453.28,28.22L453.28,29.92M448.52,29.92L453.28,29.92M448.52,29.92L447.84,33.66M449.54,30.94L451.24,30.94M451.24,30.94L451.24,33.66M451.92,30.94L453.62,30.94M453.62,30.94L453.62,33.66M449.88,31.96L450.56,32.64M452.26,31.96L452.94,32.64" stroke="#303050" stroke-width="0.85" fill="none" stroke-linecap="square"/><path d="M425.68,41.08L431.12,41.08M428.40,39.04L428.40,41.08M428.40,41.08L425.68,45.16M428.40,41.08L431.12,45.16" stroke="#303050" stroke-width="0.85" fill="none" stroke-linecap="square"/><path d="M433.37,39.38L438.13,39.38M432.69,41.76L438.81,41.76M435.75,39.38L435.75,45.16M435.75,45.16L434.73,44.48" stroke="#303050" stroke-width="0.85" fill="none" stroke-linecap="square"/><text x="439.70" y="45.50" font-family="Liberation Sans" font-size="9.20" fill="#303050" textLength="9.2" lengthAdjust="spacingAndGlyphs">45</text><circle cx="450.28" cy="40.00" r="0.95" stroke="#303050" stroke-width="0.7" fill="none"/><path d="M452.66,39.72L458.10,39.72M452.32,42.10L458.44,42.10M454.36,39.72L454.36,42.10M454.36,42.10L452.66,45.16M456.40,39.72L456.40,45.16" stroke="#303050" stroke-width="0.85" fill="none" stroke-linecap="square"/><path d="M461.37,39.04L462.73,39.72M460.35,40.06L465.11,40.06M460.35,40.06L460.35,41.76M465.11,40.06L465.11,41.76M460.35,41.76L465.11,41.76M460.35,41.76L459.67,45.16M461.71,42.78L465.11,42.78M465.11,42.78L465.11,45.16M461.71,45.16L465.11,45.16M461.71,42.78L461.71,45.16" stroke="#303050" stroke-width="0.85" fill="none" stroke-linecap="square"/><path d="M467.70,39.38L467.70,42.78M467.70,42.78L467.02,45.16M467.70,39.38L472.12,39.38M472.12,39.38L472.12,44.48M472.12,44.48L473.14,45.16M469.06,41.08L471.10,43.80M471.10,41.08L469.06,43.80" stroke="#303050" stroke-width="0.85" fill="none" stroke-linecap="square"/><path d="M476.75,38.70L477.43,39.38M475.05,39.72L479.81,39.72M475.05,39.72L475.05,41.42M479.81,39.72L479.81,41.42M475.05,41.42L479.81,41.42M475.05,41.42L474.37,45.16M476.07,42.44L477.77,42.44M477.77,42.44L477.77,45.16M478.45,42.44L480.15,42.44M480.15,42.44L480.15,45.16M476.41,43.46L477.09,44.14M478.79,43.46L479.47,44.14" stroke="#303050" stroke-width="0.85" fill="none" stroke-linecap="square"/><path d="M428.40,51.04L428.40,57.16M428.40,57.16L427.58,56.62M426.70,53.08L425.68,55.80M430.10,53.08L431.12,55.80" stroke="#303050" stroke-width="0.85" fill="none" stroke-linecap="square"/><path d="M433.37,51.38L438.13,51.38M432.69,53.76L438.81,53.76M435.75,51.38L435.75,57.16M435.75,57.16L434.73,56.48" stroke="#303050" stroke-width="0.85" fill="none" stroke-linecap="square"/><text x="439.70" y="57.50" font-family="Liberation Sans" font-size="9.20" fill="#303050" textLength="9.2" lengthAdjust="spacingAndGlyphs">40</text><circle cx="450.28" cy="52.00" r="0.95" stroke="#303050" stroke-width="0.7" fill="none"/><path d="M454.02,51.04L454.70,52.06M456.74,51.04L456.06,52.06M453.00,52.74L457.76,52.74M452.32,54.44L458.44,54.44M455.38,52.74L455.38,54.44M455.38,54.44L452.66,57.16M455.38,54.44L458.10,57.16" stroke="#303050" stroke-width="0.85" fill="none" stroke-linecap="square"/><path d="M460.35,51.04L461.03,51.72M460.01,52.06L460.01,57.16M461.71,51.38L465.45,51.38M465.45,51.38L465.45,57.16M461.37,53.76L464.09,53.76M463.07,52.74L463.07,56.48M463.07,53.76L461.71,56.14" stroke="#303050" stroke-width="0.85" fill="none" stroke-linecap="square"/><path d="M467.70,51.38L467.70,54.78M467.70,54.78L467.02,57.16M467.70,51.38L472.12,51.38M472.12,51.38L472.12,56.48M472.12,56.48L473.14,57.16M469.06,53.08L471.10,55.80M471.10,53.08L469.06,55.80" stroke="#303050" stroke-width="0.85" fill="none" stroke-linecap="square"/><path d="M476.75,50.70L477.43,51.38M475.05,51.72L479.81,51.72M475.05,51.72L475.05,53.42M479.81,51.72L479.81,53.42M475.05,53.42L479.81,53.42M475.05,53.42L474.37,57.16M476.07,54.44L477.77,54.44M477.77,54.44L477.77,57.16M478.45,54.44L480.15,54.44M480.15,54.44L480.15,57.16M476.41,55.46L477.09,56.14M478.79,55.46L479.47,56.14" stroke="#303050" stroke-width="0.85" fill="none" stroke-linecap="square"/><path d="M367.26,119.12L367.78,119.64M367.26,120.68L367.78,121.20M367.26,123.28L368.04,121.98M368.82,118.86L371.42,118.86M371.42,118.86L371.42,120.68M368.82,120.68L371.42,120.68M368.82,118.86L368.82,120.68M368.82,119.74L371.42,119.74M368.82,121.46L371.68,121.46M368.82,121.46L368.82,123.28M371.68,121.46L371.68,123.28M368.56,123.28L371.94,123.28M369.76,121.46L369.76,123.28M370.74,121.46L370.74,123.28" stroke="#303050" stroke-width="0.75" fill="none" stroke-linecap="square"/><path d="M375.05,118.60L375.05,119.12M373.23,119.12L377.39,119.12M373.23,119.12L373.23,121.72M373.23,121.72L372.71,123.54M374.01,120.16L377.13,120.16M374.79,119.64L374.79,121.20M376.35,119.64L376.35,121.20M374.79,121.20L376.35,121.20M374.27,121.72L376.61,121.72M376.61,121.72L374.53,123.54M374.79,122.24L377.13,123.54" stroke="#303050" stroke-width="0.75" fill="none" stroke-linecap="square"/><path d="M379.20,118.86L378.16,120.94M378.84,120.16L378.84,123.54M379.72,119.64L382.58,119.64M379.72,120.68L382.58,120.68M381.02,118.86L381.02,121.20M379.98,121.72L382.32,121.72M382.32,121.72L381.28,122.76M381.02,122.50L381.80,123.54" stroke="#303050" stroke-width="0.75" fill="none" stroke-linecap="square"/><path d="M384.13,119.38L384.13,121.72M384.13,121.72L383.61,122.24M384.13,119.38L388.03,119.38M384.65,120.16L386.47,120.16M384.65,120.94L385.95,120.94M384.65,120.94L384.65,121.72M385.95,120.94L385.95,121.72M384.65,121.72L385.95,121.72M386.73,118.86L388.03,121.98M387.51,118.86L387.87,119.12M383.77,123.28L384.13,122.50M384.91,122.24L384.91,123.54M384.91,123.54L386.99,123.54M385.95,122.24L386.21,122.76M387.51,122.24L388.03,123.02" stroke="#303050" stroke-width="0.75" fill="none" stroke-linecap="square"/><path d="M389.32,118.86L390.88,118.86M390.88,118.86L390.88,120.16M389.32,120.16L390.88,120.16M389.32,118.86L389.32,120.16M391.92,118.86L393.48,118.86M393.48,118.86L393.48,120.16M391.92,120.16L393.48,120.16M391.92,118.86L391.92,120.16M389.32,122.24L390.88,122.24M390.88,122.24L390.88,123.54M389.32,123.54L390.88,123.54M389.32,122.24L389.32,123.54M391.92,122.24L393.48,122.24M393.48,122.24L393.48,123.54M391.92,123.54L393.48,123.54M391.92,122.24L391.92,123.54M389.06,121.20L393.74,121.20M391.40,120.42L389.84,121.98M391.40,120.94L392.96,121.98M392.44,120.42L392.70,120.68" stroke="#303050" stroke-width="0.75" fill="none" stroke-linecap="square"/><path d="M507.31,132.81L511.39,132.81M509.35,132.81L509.35,136.89M509.35,134.85L510.88,134.85M508.07,134.34L508.07,136.89M507.06,136.89L511.65,136.89" stroke="#303050" stroke-width="0.75" fill="none" stroke-linecap="square"/><path d="M512.50,132.81L514.03,132.81M514.03,132.81L514.03,134.09M514.03,134.09L512.76,134.09M512.76,134.09L512.76,135.36M512.76,135.36L514.29,135.36M514.29,135.36L514.03,137.15M514.03,137.15L513.52,136.89M515.57,132.56L515.82,133.06M514.54,133.32L517.10,133.32M515.82,133.32L514.80,135.11M514.80,135.11L516.33,135.11M516.33,134.09L515.31,136.12M515.31,136.12L517.10,135.87M516.33,135.36L517.10,137.15" stroke="#303050" stroke-width="0.75" fill="none" stroke-linecap="square"/><path d="M517.96,132.81L518.47,133.32M517.96,134.34L518.47,134.85M517.96,136.89L518.72,135.62M519.49,133.58L522.29,133.58M519.49,133.58L519.49,135.36M519.49,135.36L518.98,137.15M520.76,132.56L520.76,134.85M522.29,133.58L522.04,134.34M519.74,134.85L522.04,134.85M522.04,134.85L520.00,137.15M520.25,135.62L522.55,137.15" stroke="#303050" stroke-width="0.75" fill="none" stroke-linecap="square"/><path d="M524.17,132.56L524.17,137.15M523.41,133.58L525.19,133.58M523.41,135.36L525.19,134.85M526.72,132.56L525.45,134.09M526.72,132.56L528.00,134.09M525.96,134.34L527.49,134.34M525.70,134.85L525.70,137.15M525.70,134.85L526.47,134.85M526.47,134.85L526.47,137.15M527.23,135.11L527.23,136.64M527.89,134.59L527.89,137.15" stroke="#303050" stroke-width="0.75" fill="none" stroke-linecap="square"/><path d="M531.15,132.56L531.15,137.15M529.37,133.06L529.37,134.59M529.37,134.59L532.94,134.59M532.94,133.06L532.94,134.59M529.11,135.11L529.11,137.15M529.11,137.15L533.19,137.15M533.19,135.11L533.19,137.15" stroke="#303050" stroke-width="0.75" fill="none" stroke-linecap="square"/><path d="M534.82,133.32L538.39,133.32M538.39,133.32L538.39,135.87M534.82,135.87L538.39,135.87M534.82,133.32L534.82,135.87M534.82,134.59L538.39,134.59M536.60,132.56L536.60,136.64M536.60,136.64L536.86,137.15M536.86,137.15L538.90,137.15" stroke="#303050" stroke-width="0.75" fill="none" stroke-linecap="square"/><path d="M540.27,132.81L544.35,132.81M540.27,132.81L540.27,135.62M540.27,135.62L539.76,137.15M541.03,134.85L544.09,134.85M542.56,133.58L542.56,136.89M540.78,136.89L544.35,136.89M543.33,135.62L543.73,136.12" stroke="#303050" stroke-width="0.75" fill="none" stroke-linecap="square"/><path d="M545.46,132.56L545.97,133.06M545.21,134.09L545.97,134.09M545.97,134.09L545.97,136.64M545.97,136.64L546.48,136.12M546.99,132.81L546.99,136.38M546.99,136.38L546.74,137.15M546.99,132.81L549.54,132.81M549.54,132.81L549.54,137.15M547.50,133.83L549.03,133.83M548.27,133.32L548.27,134.85M547.50,134.85L549.03,134.85M547.50,135.62L549.03,135.62M549.03,135.62L549.03,136.64M547.50,136.64L549.03,136.64M547.50,135.62L547.50,136.64" stroke="#303050" stroke-width="0.75" fill="none" stroke-linecap="square"/><path d="M550.66,133.06L552.70,133.06M551.68,132.56L551.68,134.85M550.91,133.58L552.44,133.58M552.44,133.58L552.44,134.34M550.91,134.34L552.44,134.34M550.91,133.58L550.91,134.34M551.68,134.09L550.66,135.11M551.68,134.09L552.70,135.11M553.46,132.56L552.95,133.83M553.21,133.32L555.25,133.32M554.74,133.32L553.21,134.85M553.72,133.83L555.25,135.11M550.91,135.62L554.99,135.62M552.95,135.62L552.95,137.15M552.95,136.38L554.23,136.38M551.68,136.12L551.68,137.15M550.66,137.15L555.25,137.15" stroke="#303050" stroke-width="0.75" fill="none" stroke-linecap="square"/><path d="M572.54,245.84L576.86,245.84M574.70,245.84L574.70,250.16M574.70,248.00L576.32,248.00M573.35,247.46L573.35,250.16M572.27,250.16L577.13,250.16" stroke="#303050" stroke-width="0.75" fill="none" stroke-linecap="square"/><path d="M578.17,245.84L579.79,245.84M579.79,245.84L579.79,247.19M579.79,247.19L578.44,247.19M578.44,247.19L578.44,248.54M578.44,248.54L580.06,248.54M580.06,248.54L579.79,250.43M579.79,250.43L579.25,250.16M581.41,245.57L581.68,246.11M580.33,246.38L583.03,246.38M581.68,246.38L580.60,248.27M580.60,248.27L582.22,248.27M582.22,247.19L581.14,249.35M581.14,249.35L583.03,249.08M582.22,248.54L583.03,250.43" stroke="#303050" stroke-width="0.75" fill="none" stroke-linecap="square"/><text x="583.80" y="250.70" font-family="Liberation Serif" font-size="7.60" fill="#303050" textLength="12.5" lengthAdjust="spacingAndGlyphs">220V</text><path d="M597.63,245.57L597.63,250.43M596.82,246.65L598.71,246.65M596.82,248.54L598.71,248.00M600.33,245.57L598.98,247.19M600.33,245.57L601.68,247.19M599.52,247.46L601.14,247.46M599.25,248.00L599.25,250.43M599.25,248.00L600.06,248.00M600.06,248.00L600.06,250.43M600.87,248.27L600.87,249.89M601.57,247.73L601.57,250.43" stroke="#303050" stroke-width="0.75" fill="none" stroke-linecap="square"/><path d="M605.15,245.57L605.15,250.43M603.26,246.11L603.26,247.73M603.26,247.73L607.04,247.73M607.04,246.11L607.04,247.73M602.99,248.27L602.99,250.43M602.99,250.43L607.31,250.43M607.31,248.27L607.31,250.43" stroke="#303050" stroke-width="0.75" fill="none" stroke-linecap="square"/><path d="M572.54,288.74L576.86,288.74M574.70,288.74L574.70,293.06M574.70,290.90L576.32,290.90M573.35,290.36L573.35,293.06M572.27,293.06L577.13,293.06" stroke="#303050" stroke-width="0.75" fill="none" stroke-linecap="square"/><path d="M578.17,288.74L579.79,288.74M579.79,288.74L579.79,290.09M579.79,290.09L578.44,290.09M578.44,290.09L578.44,291.44M578.44,291.44L580.06,291.44M580.06,291.44L579.79,293.33M579.79,293.33L579.25,293.06M581.41,288.47L581.68,289.01M580.33,289.28L583.03,289.28M581.68,289.28L580.60,291.17M580.60,291.17L582.22,291.17M582.22,290.09L581.14,292.25M581.14,292.25L583.03,291.98M582.22,291.44L583.03,293.33" stroke="#303050" stroke-width="0.75" fill="none" stroke-linecap="square"/><text x="583.80" y="293.60" font-family="Liberation Serif" font-size="7.60" fill="#303050" textLength="12.5" lengthAdjust="spacingAndGlyphs">220V</text><path d="M597.63,288.47L597.63,293.33M596.82,289.55L598.71,289.55M596.82,291.44L598.71,290.90M600.33,288.47L598.98,290.09M600.33,288.47L601.68,290.09M599.52,290.36L601.14,290.36M599.25,290.90L599.25,293.33M599.25,290.90L600.06,290.90M600.06,290.90L600.06,293.33M600.87,291.17L600.87,292.79M601.57,290.63L601.57,293.33" stroke="#303050" stroke-width="0.75" fill="none" stroke-linecap="square"/><path d="M605.15,288.47L605.15,293.33M603.26,289.01L603.26,290.63M603.26,290.63L607.04,290.63M607.04,289.01L607.04,290.63M602.99,291.17L602.99,293.33M602.99,293.33L607.31,293.33M607.31,291.17L607.31,293.33" stroke="#303050" stroke-width="0.75" fill="none" stroke-linecap="square"/><g opacity="0.8" fill="#a9afbd" stroke="#a9afbd" stroke-width="0.45" font-family="Liberation Sans"><text x="14.5" y="222.4" font-size="15.8" textLength="71.5" lengthAdjust="spacing">stockleys</text><text x="14.2" y="237.7" font-size="10.8" textLength="118" lengthAdjust="spacing">www.thebackshed.com</text><text x="14.2" y="249.7" font-size="13" textLength="52" lengthAdjust="spacing">2006/26</text></g></svg></body></html>
